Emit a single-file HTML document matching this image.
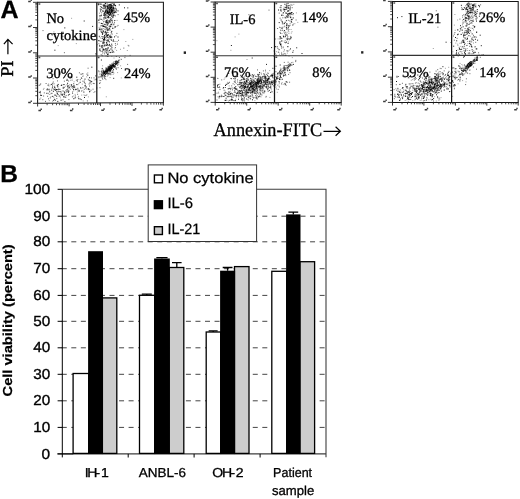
<!DOCTYPE html>
<html><head><meta charset="utf-8"><title>Figure</title>
<style>
html,body{margin:0;padding:0;background:#fff;}
body{width:520px;height:499px;overflow:hidden;position:relative;font-family:"Liberation Sans",sans-serif;}
#wrap{position:absolute;left:0;top:0;width:520px;height:499px;will-change:transform;filter:grayscale(1);background:#fff;}
</style></head><body>
<div id="wrap">
<svg width="520" height="499" viewBox="0 0 520 499" text-rendering="geometricPrecision" style="position:absolute;left:0;top:0">
<rect width="520" height="499" fill="#fff"/>
<path d="M84.5 85.7h1.0M110.5 5.7h1.0M114.0 36.9h1.0M107.5 12.0h1.0M113.0 7.2h1.0M113.5 66.2h1.0M111.4 68.3h1.0M114.7 66.4h1.0M103.0 39.5h1.0M110.8 67.1h1.0M106.7 44.6h1.0M87.8 88.8h1.0M102.7 75.0h1.0M78.2 98.7h1.0M80.0 87.9h1.0M101.6 51.4h1.0M108.8 15.2h1.0M102.1 34.3h1.0M105.0 71.2h1.0M89.1 91.8h1.0M110.1 37.5h1.0M87.8 89.2h1.0M51.4 93.3h1.0M106.7 20.0h1.0M109.8 13.3h1.0M110.0 26.2h1.0M111.1 36.9h1.0M54.0 87.2h1.0M115.2 61.6h1.0M110.1 68.8h1.0M51.1 84.4h1.0M110.9 40.0h1.0M63.5 84.5h1.0M111.3 65.9h1.0M104.2 26.6h1.0M105.0 6.9h1.0M101.7 68.8h1.0M113.1 65.4h1.0M114.7 5.7h1.0M117.1 61.8h1.0M111.4 68.2h1.0M102.7 30.8h1.0M61.8 95.1h1.0M104.6 17.3h1.0M87.3 75.2h1.0M73.4 85.3h1.0M104.8 32.2h1.0M106.5 13.4h1.0M56.4 91.7h1.0M64.4 101.7h1.0M105.3 5.8h1.0M103.3 71.3h1.0M104.3 39.5h1.0M112.5 72.1h1.0M112.3 52.4h1.0M100.7 29.8h1.0M102.2 33.4h1.0M108.9 12.4h1.0M115.7 61.3h1.0M107.9 16.4h1.0M54.8 100.2h1.0M107.8 12.8h1.0M103.2 42.1h1.0M59.4 89.4h1.0M61.6 94.2h1.0M109.2 9.6h1.0M103.3 72.4h1.0M102.4 25.5h1.0M107.8 30.0h1.0M100.9 60.0h1.0M108.1 73.3h1.0M103.5 49.5h1.0M79.7 82.3h1.0M85.7 86.9h1.0M100.7 15.4h1.0M65.2 97.2h1.0M108.6 21.1h1.0M102.8 5.4h1.0M67.0 86.8h1.0M107.5 74.9h1.0M109.3 73.3h1.0M109.8 26.8h1.0M103.9 72.9h1.0M115.9 69.0h1.0M106.8 40.2h1.0M113.1 7.8h1.0M113.5 3.7h1.0M104.1 35.5h1.0M101.8 38.4h1.0M112.9 8.4h1.0M115.0 26.9h1.0M99.4 15.9h1.0M115.1 12.0h1.0M61.3 85.0h1.0M107.9 13.0h1.0M99.5 50.1h1.0M51.2 90.1h1.0M107.2 7.6h1.0M103.4 18.0h1.0M104.4 24.3h1.0M108.9 12.0h1.0M108.8 67.9h1.0M105.1 71.3h1.0M113.1 66.3h1.0M54.4 50.2h1.0M111.7 11.7h1.0M104.1 38.8h1.0M84.5 79.1h1.0M109.4 64.9h1.0M107.0 29.8h1.0M53.9 89.7h1.0M110.3 69.4h1.0M105.8 69.4h1.0M102.1 32.2h1.0M108.1 68.3h1.0M108.1 23.1h1.0M104.6 76.2h1.0M67.1 83.3h1.0M107.1 6.4h1.0M110.4 4.3h1.0M95.3 75.9h1.0M53.9 99.3h1.0M116.4 62.8h1.0M110.0 71.0h1.0M108.9 70.1h1.0M103.6 13.9h1.0M73.2 87.1h1.0M106.2 73.2h1.0M64.3 27.9h1.0M107.3 48.7h1.0M116.1 63.4h1.0M109.7 7.1h1.0M96.0 79.6h1.0M114.8 5.4h1.0M107.2 70.0h1.0M108.9 44.5h1.0M105.0 74.4h1.0M110.6 8.9h1.0M101.9 78.1h1.0M107.3 35.9h1.0M109.8 67.0h1.0M47.3 89.2h1.0M56.2 96.2h1.0M114.3 20.5h1.0M107.4 54.0h1.0M109.3 66.8h1.0M114.3 27.0h1.0M99.4 29.1h1.0M110.9 7.4h1.0M112.6 10.1h1.0M109.5 70.1h1.0M100.9 7.1h1.0M103.7 15.1h1.0M106.0 42.9h1.0M100.9 32.0h1.0M115.6 64.6h1.0M104.1 75.4h1.0M84.0 97.5h1.0M104.2 72.6h1.0M57.3 89.6h1.0M39.8 92.8h1.0M104.4 73.6h1.0M110.5 4.8h1.0M111.4 72.3h1.0M112.7 41.1h1.0M111.8 66.0h1.0M99.2 45.3h1.0M103.7 6.0h1.0M124.0 7.8h1.0M95.4 53.8h1.0M107.4 12.6h1.0M67.6 91.6h1.0M106.7 11.5h1.0M83.7 21.0h1.0M102.8 49.8h1.0M102.9 70.2h1.0M111.0 9.3h1.0M107.8 35.0h1.0M116.4 10.8h1.0M104.4 72.1h1.0M106.9 6.2h1.0M112.3 17.6h1.0M103.6 8.2h1.0M107.0 12.5h1.0M106.3 34.7h1.0M56.8 93.4h1.0M110.0 13.2h1.0M52.3 96.4h1.0M52.9 91.3h1.0M104.6 72.0h1.0M49.2 91.8h1.0M107.3 6.8h1.0M54.6 88.0h1.0M76.9 81.0h1.0M113.2 4.8h1.0M112.7 15.5h1.0M111.2 44.2h1.0M109.3 66.6h1.0M46.3 93.3h1.0M106.6 49.8h1.0M105.1 3.5h1.0M60.8 85.5h1.0M92.1 26.4h1.0M109.6 52.5h1.0M113.0 65.3h1.0M89.0 77.7h1.0M57.3 86.9h1.0M76.3 84.6h1.0M99.2 29.4h1.0M89.3 80.7h1.0M106.3 20.9h1.0M109.5 30.0h1.0M47.6 85.2h1.0M112.8 64.1h1.0M109.8 68.6h1.0M104.0 38.7h1.0M104.0 5.2h1.0M108.6 8.0h1.0M113.6 66.1h1.0M67.9 92.3h1.0M103.1 71.4h1.0M113.0 69.8h1.0M111.0 7.1h1.0M109.4 4.5h1.0M61.6 94.9h1.0M109.4 11.1h1.0M53.6 14.7h1.0M110.8 24.3h1.0M110.3 46.1h1.0M110.1 8.3h1.0M63.6 94.0h1.0M104.7 12.9h1.0M106.2 53.0h1.0M127.3 7.9h1.0M58.2 89.1h1.0M109.8 7.9h1.0M109.5 71.1h1.0M117.4 62.1h1.0M80.9 78.0h1.0M99.9 4.1h1.0M106.4 27.9h1.0M57.3 101.4h1.0M102.2 23.7h1.0M104.5 24.7h1.0M110.1 65.6h1.0M69.1 77.1h1.0M113.2 78.3h1.0M109.1 69.7h1.0M108.3 14.4h1.0M98.2 20.2h1.0M111.3 11.1h1.0M105.0 71.6h1.0M112.9 39.9h1.0M38.8 92.3h1.0M108.0 41.0h1.0M101.7 46.0h1.0M105.8 45.3h1.0M82.3 73.8h1.0M107.2 13.3h1.0M40.1 95.2h1.0M109.4 22.4h1.0M91.2 81.6h1.0M101.5 47.4h1.0M105.5 70.3h1.0M105.4 26.4h1.0M101.0 74.3h1.0M100.9 23.5h1.0M58.7 96.0h1.0M108.8 9.8h1.0M80.6 74.2h1.0M108.5 69.0h1.0M112.5 64.4h1.0M65.8 91.9h1.0M55.1 90.2h1.0M66.5 80.5h1.0M105.4 51.9h1.0M115.1 62.9h1.0M107.7 39.9h1.0M109.2 45.7h1.0M108.6 5.7h1.0M104.4 73.3h1.0M107.0 11.6h1.0M107.0 35.6h1.0M106.4 22.3h1.0M109.0 68.5h1.0M102.4 10.8h1.0M78.5 91.0h1.0M107.7 8.5h1.0M105.8 32.9h1.0M99.8 9.1h1.0M111.0 11.1h1.0M54.5 95.3h1.0M107.2 71.6h1.0M113.4 5.0h1.0M62.7 32.3h1.0M111.1 10.1h1.0M40.8 95.4h1.0M117.5 37.0h1.0M104.8 11.4h1.0M103.4 40.7h1.0M102.4 75.9h1.0M106.2 71.9h1.0M107.0 12.3h1.0M73.1 89.4h1.0M68.8 87.7h1.0M106.4 10.5h1.0M70.9 85.2h1.0M114.1 12.5h1.0M64.3 92.9h1.0M102.6 11.4h1.0M103.0 26.5h1.0M73.3 98.7h1.0M64.0 92.1h1.0M110.0 67.1h1.0M66.6 89.6h1.0M108.9 50.3h1.0M108.9 68.3h1.0M109.6 36.8h1.0M110.8 68.2h1.0M104.8 15.1h1.0M107.8 67.7h1.0M95.8 79.0h1.0M55.9 89.5h1.0M105.3 10.5h1.0M111.5 65.7h1.0M109.6 69.1h1.0M76.3 77.2h1.0M109.1 28.3h1.0M118.8 4.9h1.0M107.4 56.5h1.0" stroke="#000" stroke-width="1.0" stroke-opacity="0.90" fill="none"/>
<path d="M108.8 12.6h1.0M108.5 38.1h1.0M51.7 88.2h1.0M98.2 70.9h1.0M106.1 9.4h1.0M80.9 99.6h1.0M112.2 67.3h1.0M102.3 36.7h1.0M113.5 10.1h1.0M111.3 26.1h1.0M103.4 32.0h1.0M100.1 10.6h1.0M111.9 65.8h1.0M102.6 42.9h1.0M102.5 48.3h1.0M112.1 64.9h1.0M107.8 7.6h1.0M111.4 20.6h1.0M101.3 7.6h1.0M115.5 35.8h1.0M105.9 42.5h1.0M89.4 82.8h1.0M108.1 16.4h1.0M109.0 69.4h1.0M108.6 72.0h1.0M114.6 8.4h1.0M100.6 19.4h1.0M71.6 80.1h1.0M105.7 36.9h1.0M107.0 8.6h1.0M75.1 97.8h1.0M109.3 25.9h1.0M73.2 83.6h1.0M113.1 63.1h1.0M113.1 64.7h1.0M109.8 70.2h1.0M114.8 15.9h1.0M103.3 49.2h1.0M74.3 87.1h1.0M104.8 34.7h1.0M71.1 77.2h1.0M92.5 89.2h1.0M109.6 39.2h1.0M103.7 7.0h1.0M105.1 31.4h1.0M108.5 5.8h1.0M68.9 94.4h1.0M63.4 96.6h1.0M106.0 22.5h1.0M104.8 11.4h1.0M105.4 68.4h1.0M105.9 20.8h1.0M109.9 36.3h1.0M117.0 44.1h1.0M110.5 49.0h1.0M104.1 53.8h1.0M110.5 52.5h1.0M124.4 57.6h1.0M108.4 69.8h1.0M102.6 28.6h1.0M110.2 24.4h1.0M112.3 10.6h1.0M108.9 9.1h1.0M112.1 16.4h1.0M115.6 60.6h1.0M88.9 89.3h1.0M85.5 95.4h1.0M103.5 6.5h1.0M110.8 67.1h1.0M90.5 90.2h1.0M115.2 45.3h1.0M90.9 77.9h1.0M104.2 78.6h1.0M107.2 15.7h1.0M105.9 20.9h1.0M84.7 83.4h1.0M105.6 9.0h1.0M75.9 80.2h1.0M105.7 40.4h1.0M114.5 5.4h1.0M53.0 100.5h1.0M117.1 65.3h1.0M106.5 72.0h1.0M115.8 12.4h1.0M106.9 28.0h1.0M65.5 90.4h1.0M55.6 89.9h1.0M111.0 69.0h1.0M106.2 35.9h1.0M105.9 71.1h1.0M70.2 76.8h1.0M47.1 96.3h1.0M111.7 6.9h1.0M45.6 83.5h1.0M63.1 96.9h1.0M106.9 44.2h1.0M72.7 86.7h1.0M57.6 84.7h1.0M103.7 37.4h1.0M56.3 98.6h1.0M99.4 18.2h1.0M72.1 93.4h1.0M105.1 27.5h1.0M103.6 15.5h1.0M110.8 11.2h1.0M77.3 79.5h1.0M107.3 17.0h1.0M110.4 12.3h1.0M116.8 62.3h1.0M99.5 87.7h1.0M105.7 48.5h1.0M104.4 71.1h1.0M104.5 45.7h1.0M104.1 37.6h1.0M110.9 7.7h1.0M83.4 92.2h1.0M69.8 89.2h1.0M100.4 41.4h1.0M104.5 44.7h1.0M101.5 75.3h1.0M103.9 12.7h1.0M48.0 98.8h1.0M103.5 73.4h1.0M110.5 6.8h1.0M101.0 72.9h1.0M103.6 77.0h1.0M103.8 42.4h1.0M105.3 73.9h1.0M112.1 10.8h1.0M110.7 65.2h1.0M106.5 35.4h1.0M113.2 12.7h1.0M66.6 79.7h1.0M94.4 91.7h1.0M104.7 32.4h1.0M113.2 24.3h1.0M109.9 67.8h1.0M109.8 21.8h1.0M38.7 85.4h1.0M111.8 22.2h1.0M72.0 92.0h1.0M113.6 11.2h1.0M109.6 5.4h1.0M112.1 28.2h1.0M111.0 12.1h1.0M111.3 47.1h1.0M115.2 64.4h1.0M118.7 59.9h1.0M113.6 61.7h1.0M53.1 89.0h1.0M104.3 16.7h1.0M112.5 65.8h1.0M106.7 71.4h1.0M127.1 64.4h1.0M103.4 4.7h1.0M106.5 71.8h1.0M66.6 84.8h1.0M60.6 100.5h1.0M62.5 99.8h1.0M99.7 82.8h1.0M108.6 26.8h1.0M109.7 67.7h1.0M106.5 6.9h1.0M109.2 11.5h1.0M56.9 85.7h1.0M115.8 56.5h1.0M110.8 68.0h1.0M100.8 76.9h1.0M112.5 65.5h1.0M101.1 45.8h1.0M110.9 33.0h1.0M114.6 64.0h1.0M109.6 70.7h1.0M109.4 10.6h1.0M108.3 29.6h1.0M107.7 12.2h1.0M45.0 101.4h1.0M104.4 36.1h1.0M88.3 80.0h1.0M99.0 49.0h1.0M107.0 70.6h1.0M118.0 61.1h1.0M98.8 19.9h1.0M111.5 67.3h1.0M40.2 83.9h1.0M42.3 99.7h1.0M100.3 31.1h1.0M98.2 40.7h1.0M105.1 22.6h1.0M111.0 10.8h1.0M111.7 65.0h1.0M99.3 46.5h1.0M129.6 55.4h1.0M108.7 9.6h1.0M128.3 45.9h1.0M110.4 14.1h1.0M109.0 41.7h1.0M106.6 73.5h1.0M108.4 69.8h1.0M104.9 72.4h1.0M105.4 34.2h1.0M78.7 90.3h1.0M100.2 80.6h1.0M110.3 74.7h1.0M39.6 84.8h1.0M106.3 50.2h1.0M106.7 71.1h1.0M112.5 12.5h1.0M109.4 21.0h1.0M107.7 68.3h1.0M87.6 68.2h1.0M71.9 96.9h1.0M105.3 12.8h1.0M101.9 75.4h1.0M113.9 66.1h1.0M102.3 72.4h1.0M46.8 89.0h1.0M116.4 63.6h1.0M104.1 73.7h1.0M77.3 88.3h1.0M104.4 37.6h1.0M102.0 43.0h1.0M99.0 83.4h1.0M103.6 36.5h1.0M111.1 16.3h1.0M105.9 71.2h1.0M98.6 22.7h1.0M99.9 6.6h1.0M118.9 57.5h1.0M109.4 9.4h1.0M103.7 13.8h1.0M108.0 47.9h1.0M107.0 70.0h1.0M111.7 50.1h1.0M110.7 20.1h1.0M102.2 53.0h1.0M107.9 67.0h1.0M104.2 15.0h1.0M109.2 37.0h1.0M68.0 94.8h1.0M105.8 15.9h1.0M75.3 89.2h1.0M106.6 41.2h1.0M103.5 19.3h1.0M105.0 14.6h1.0M39.9 91.4h1.0M113.8 67.1h1.0M89.4 91.4h1.0M104.6 8.1h1.0M102.7 43.4h1.0M103.4 8.8h1.0M114.3 63.4h1.0M106.7 6.0h1.0M105.2 11.6h1.0M108.2 70.2h1.0M63.9 81.2h1.0M110.4 10.0h1.0M107.9 70.0h1.0M99.9 51.0h1.0M111.3 31.3h1.0M86.4 74.1h1.0M110.0 67.4h1.0M103.8 71.9h1.0M101.1 9.7h1.0M113.6 12.9h1.0M106.8 22.6h1.0M99.3 50.0h1.0M107.8 45.4h1.0M63.2 87.3h1.0M107.0 54.6h1.0M111.0 66.6h1.0M74.8 95.9h1.0M70.8 84.7h1.0M67.8 90.3h1.0M110.7 69.1h1.0M103.3 15.2h1.0M103.9 72.4h1.0M60.1 91.6h1.0M103.5 39.3h1.0M107.6 32.6h1.0M95.6 55.1h1.0M110.3 73.9h1.0M90.4 81.7h1.0M109.4 36.4h1.0M105.2 21.7h1.0M110.0 8.0h1.0M52.6 78.7h1.0M101.7 47.0h1.0M110.0 4.9h1.0M52.0 85.2h1.0M114.6 65.0h1.0M79.8 79.7h1.0M103.6 45.1h1.0M104.4 5.5h1.0M68.5 91.1h1.0M78.6 91.2h1.0M98.6 71.8h1.0M105.5 18.3h1.0M100.9 46.2h1.0M112.7 6.0h1.0M63.8 94.8h1.0M63.8 97.1h1.0M102.2 8.2h1.0M112.9 16.8h1.0M83.9 82.6h1.0M114.0 22.3h1.0M108.6 50.8h1.0M96.4 88.0h1.0M115.7 9.7h1.0M109.3 6.5h1.0M81.0 91.0h1.0M91.1 67.2h1.0M75.8 89.4h1.0M56.8 85.4h1.0M47.7 93.3h1.0M108.6 4.4h1.0M111.5 47.8h1.0M100.9 28.9h1.0M109.1 35.8h1.0M108.2 66.7h1.0M55.6 89.7h1.0M105.9 33.5h1.0M110.5 11.8h1.0M111.6 70.6h1.0M84.9 85.1h1.0M103.6 37.9h1.0M57.0 80.9h1.0M106.0 68.4h1.0M111.2 37.7h1.0M54.5 21.3h1.0M57.9 91.3h1.0M114.0 4.4h1.0M110.4 49.0h1.0M109.2 17.7h1.0M62.4 36.4h1.0M106.8 32.3h1.0M110.1 17.8h1.0M114.6 10.9h1.0M109.7 7.0h1.0M117.9 60.4h1.0M106.9 35.0h1.0M52.0 83.3h1.0M60.6 92.2h1.0M123.3 48.1h1.0M93.7 83.6h1.0M107.4 23.9h1.0M109.5 8.3h1.0M98.5 77.7h1.0M57.8 84.4h1.0M110.2 35.1h1.0M109.1 15.3h1.0M110.1 13.8h1.0M49.8 97.9h1.0M62.7 88.5h1.0M67.4 85.6h1.0M103.0 31.5h1.0M107.4 47.4h1.0M114.9 47.5h1.0M111.5 63.4h1.0M106.3 73.2h1.0M107.8 5.2h1.0M111.1 31.6h1.0M113.6 15.4h1.0M112.0 10.5h1.0M116.0 9.0h1.0M39.3 99.2h1.0M108.9 21.6h1.0M107.2 30.4h1.0M78.9 72.8h1.0M106.4 25.1h1.0M63.9 52.7h1.0M111.0 67.6h1.0M107.2 25.4h1.0M105.3 12.5h1.0M110.7 18.5h1.0M107.4 10.5h1.0M112.0 7.1h1.0M52.8 82.0h1.0M107.5 54.8h1.0M111.8 13.1h1.0M111.7 34.1h1.0M83.8 89.3h1.0M107.7 17.5h1.0M70.5 86.7h1.0M42.5 30.6h1.0M74.0 87.1h1.0M102.1 26.6h1.0M112.1 72.3h1.0M111.0 68.3h1.0M110.3 68.2h1.0M99.6 76.3h1.0M107.8 69.0h1.0M111.7 11.0h1.0M105.1 50.0h1.0M65.7 95.4h1.0M112.8 65.8h1.0M106.6 22.7h1.0M77.1 94.3h1.0M107.6 13.6h1.0M112.5 13.3h1.0M103.7 26.4h1.0M110.1 8.1h1.0M110.8 65.9h1.0M56.8 94.1h1.0M106.6 17.3h1.0M110.4 68.0h1.0M68.4 99.6h1.0M117.6 67.7h1.0M115.0 68.0h1.0M98.3 40.6h1.0M111.8 14.3h1.0M112.9 14.7h1.0M102.5 50.4h1.0M112.5 65.5h1.0M105.6 56.0h1.0M117.5 25.4h1.0M105.7 69.6h1.0M92.8 83.4h1.0M98.1 4.8h1.0M111.1 7.6h1.0M110.9 12.8h1.0M111.2 5.5h1.0M103.8 50.9h1.0M106.2 72.9h1.0M112.2 28.4h1.0M103.4 74.4h1.0M106.4 21.5h1.0M110.7 12.1h1.0M108.9 14.3h1.0M111.3 5.3h1.0M106.3 45.4h1.0M98.3 76.9h1.0M108.1 17.0h1.0M117.8 10.9h1.0M107.2 24.5h1.0M117.6 14.6h1.0M107.6 22.0h1.0M79.7 99.2h1.0M111.1 15.8h1.0M57.7 94.5h1.0M53.5 83.8h1.0M111.6 7.7h1.0M102.4 41.9h1.0M106.7 10.6h1.0M48.2 89.8h1.0M102.4 72.9h1.0M109.7 6.2h1.0M114.6 11.8h1.0M100.8 71.6h1.0M93.5 77.9h1.0M100.1 11.7h1.0M68.1 81.0h1.0M118.0 40.3h1.0M113.9 63.4h1.0M107.7 71.0h1.0M114.9 43.6h1.0M113.9 67.3h1.0M102.5 73.5h1.0M110.2 19.5h1.0M115.3 62.9h1.0M43.1 96.0h1.0M101.2 76.2h1.0M114.6 8.8h1.0M106.3 36.3h1.0M103.5 46.2h1.0M75.2 89.7h1.0M105.2 49.2h1.0M71.9 86.4h1.0M67.8 85.8h1.0M116.4 33.4h1.0M107.1 37.4h1.0M106.6 11.7h1.0M100.6 15.9h1.0M100.9 75.6h1.0M109.3 4.8h1.0M83.5 81.6h1.0M103.6 43.2h1.0M68.4 87.9h1.0M111.6 9.3h1.0M115.2 62.9h1.0M103.0 74.1h1.0M106.9 23.2h1.0M102.0 45.3h1.0M105.2 48.6h1.0M106.3 71.8h1.0M111.3 24.3h1.0M104.4 76.6h1.0M105.9 12.6h1.0M112.6 51.4h1.0M107.5 74.0h1.0M108.1 34.6h1.0M43.8 92.9h1.0M111.6 9.1h1.0M86.9 100.9h1.0M121.0 68.5h1.0" stroke="#000" stroke-width="1.0" stroke-opacity="0.60" fill="none"/>
<path d="M99.8 27.0h1.0M59.6 96.1h1.0M113.1 11.6h1.0M104.9 31.1h1.0M73.6 81.8h1.0M105.8 6.0h1.0M110.0 12.7h1.0M104.3 21.3h1.0M111.3 10.5h1.0M74.6 94.4h1.0M116.3 63.6h1.0M84.7 86.6h1.0M103.6 40.9h1.0M40.3 98.0h1.0M111.3 37.1h1.0M50.3 96.9h1.0M103.7 14.1h1.0M108.0 6.5h1.0M107.5 70.3h1.0M108.9 42.8h1.0M107.1 42.0h1.0M109.2 26.3h1.0M103.2 73.2h1.0M93.8 79.9h1.0M97.1 44.7h1.0M110.3 4.2h1.0M116.8 61.1h1.0M100.1 38.0h1.0M105.9 50.4h1.0M112.1 64.8h1.0M111.4 68.5h1.0M101.0 36.5h1.0M105.7 14.7h1.0M116.4 63.5h1.0M116.6 64.6h1.0M106.0 29.8h1.0M52.0 87.5h1.0M113.3 67.6h1.0M107.0 45.2h1.0M112.3 8.4h1.0M72.8 96.0h1.0M106.3 68.1h1.0M82.8 87.7h1.0M106.4 13.4h1.0M106.3 70.8h1.0M105.8 11.2h1.0M110.2 8.4h1.0M76.8 92.0h1.0M104.9 11.5h1.0M107.8 17.9h1.0M75.8 43.6h1.0M109.8 68.2h1.0M103.6 38.6h1.0M102.8 25.9h1.0M48.8 100.6h1.0M104.3 27.9h1.0M105.1 71.7h1.0M106.6 30.9h1.0M108.9 28.9h1.0M102.5 49.2h1.0M116.1 50.4h1.0M98.8 36.1h1.0M120.0 49.3h1.0M107.7 69.9h1.0M53.4 31.9h1.0M90.2 80.7h1.0M104.2 13.1h1.0M108.2 12.9h1.0M107.0 54.5h1.0M109.9 67.1h1.0M71.1 18.3h1.0M110.6 20.4h1.0M108.9 11.0h1.0M103.5 17.6h1.0M58.4 91.9h1.0M78.4 83.4h1.0M104.2 13.5h1.0M117.1 62.8h1.0M104.5 29.4h1.0M105.8 21.7h1.0M77.6 89.3h1.0M69.2 94.3h1.0M119.1 60.8h1.0M98.1 4.6h1.0M62.4 87.4h1.0M112.3 66.1h1.0M68.4 86.7h1.0M51.7 96.4h1.0M110.8 5.5h1.0M115.2 6.0h1.0M116.5 26.4h1.0M77.7 97.3h1.0M112.9 69.2h1.0M82.0 76.3h1.0M106.9 8.7h1.0M91.7 67.2h1.0M101.1 32.4h1.0M107.5 17.8h1.0M106.2 27.9h1.0M102.2 55.9h1.0M106.6 70.4h1.0M101.6 32.8h1.0M106.7 35.7h1.0M101.1 25.9h1.0M102.1 74.6h1.0M108.4 20.6h1.0M113.8 41.4h1.0M53.3 97.4h1.0M52.2 86.5h1.0M81.4 78.4h1.0M108.8 12.6h1.0M112.6 51.6h1.0M109.7 19.5h1.0M118.2 64.2h1.0M115.4 41.5h1.0M100.3 77.1h1.0M103.7 52.4h1.0M113.3 9.7h1.0M98.4 29.9h1.0M110.8 64.8h1.0M107.1 5.0h1.0M100.4 19.4h1.0M113.0 8.6h1.0M106.4 23.1h1.0M107.6 22.5h1.0M68.6 86.8h1.0M111.0 66.7h1.0M71.3 84.8h1.0M113.9 65.3h1.0M79.5 98.7h1.0M111.8 8.9h1.0M107.3 52.0h1.0M90.3 82.1h1.0M105.5 20.6h1.0M108.9 7.0h1.0M110.0 12.8h1.0M100.7 23.2h1.0M106.8 68.3h1.0M103.9 45.6h1.0M59.9 97.8h1.0M108.9 66.0h1.0M110.3 68.5h1.0M82.9 76.0h1.0M85.9 89.1h1.0M54.2 86.2h1.0M101.2 19.3h1.0M108.0 52.1h1.0M62.7 90.7h1.0M104.4 45.8h1.0M109.8 72.9h1.0M70.1 80.3h1.0M67.4 88.6h1.0M106.9 70.2h1.0M101.4 55.0h1.0M53.1 74.6h1.0M72.1 88.5h1.0M81.3 88.4h1.0M101.9 36.9h1.0M98.8 36.5h1.0M87.9 96.9h1.0M111.3 68.1h1.0M109.0 7.6h1.0M109.5 10.3h1.0M100.6 25.5h1.0M105.9 32.7h1.0M108.2 13.8h1.0M107.9 7.8h1.0M71.9 86.8h1.0M85.6 87.8h1.0M108.6 12.1h1.0M87.3 72.9h1.0M104.2 71.4h1.0M84.9 88.4h1.0M110.0 68.2h1.0M117.6 61.7h1.0M116.3 61.5h1.0M110.6 15.0h1.0M110.3 14.8h1.0M103.9 40.0h1.0M110.5 45.9h1.0M112.1 50.4h1.0M43.5 88.4h1.0M102.5 4.7h1.0M74.2 98.1h1.0M104.7 7.1h1.0M113.3 25.0h1.0M107.1 9.1h1.0M108.0 17.8h1.0M112.6 74.4h1.0M124.6 55.7h1.0M71.7 77.9h1.0M81.8 84.1h1.0M113.6 65.6h1.0M105.9 71.1h1.0M106.3 43.5h1.0M132.3 39.4h1.0M49.8 84.8h1.0M102.7 8.0h1.0M106.7 76.3h1.0M99.0 40.9h1.0M83.7 80.3h1.0M109.3 67.5h1.0M107.5 14.6h1.0M111.3 56.4h1.0M107.0 9.5h1.0M112.4 66.6h1.0M109.7 20.8h1.0M110.1 70.3h1.0M108.2 9.1h1.0M63.9 94.6h1.0M105.3 17.2h1.0M90.8 84.2h1.0M113.4 8.3h1.0M111.1 6.8h1.0M123.4 29.6h1.0M111.1 6.6h1.0M112.7 41.0h1.0M110.6 67.4h1.0M105.7 70.5h1.0M105.0 78.9h1.0M60.5 94.2h1.0M112.0 8.7h1.0M112.6 62.9h1.0M107.9 70.7h1.0M105.8 71.4h1.0M86.2 76.9h1.0M110.2 14.7h1.0M78.1 96.4h1.0M109.6 77.6h1.0M103.7 40.2h1.0M110.4 9.8h1.0M104.9 70.0h1.0M64.8 86.2h1.0M107.5 68.5h1.0M111.7 67.2h1.0M108.2 8.2h1.0M108.5 4.7h1.0M107.9 54.0h1.0M115.0 64.3h1.0M48.8 94.5h1.0M105.4 67.6h1.0M73.7 86.0h1.0M114.7 7.7h1.0M104.6 18.5h1.0M101.9 68.4h1.0M107.3 20.9h1.0M102.0 29.7h1.0M89.0 86.3h1.0M107.0 50.9h1.0M105.7 15.3h1.0M98.4 43.5h1.0M120.1 65.8h1.0M73.2 90.9h1.0M101.9 34.2h1.0M102.7 49.4h1.0M99.5 73.8h1.0M105.4 8.9h1.0M98.2 4.2h1.0M114.5 48.9h1.0M50.2 93.9h1.0M108.1 10.4h1.0M60.3 94.0h1.0M106.5 69.1h1.0M69.1 84.9h1.0M126.8 50.5h1.0M52.1 101.2h1.0M109.3 8.2h1.0M107.3 17.2h1.0M111.8 9.5h1.0M102.2 20.2h1.0M101.7 71.7h1.0M101.5 71.9h1.0M48.1 84.0h1.0M73.4 87.7h1.0M46.1 89.7h1.0M88.6 89.9h1.0M113.6 52.2h1.0M113.3 10.5h1.0M108.9 68.0h1.0M107.4 68.3h1.0M102.8 25.0h1.0M109.7 70.9h1.0M102.1 76.5h1.0M106.0 24.0h1.0M104.3 72.8h1.0M107.0 72.8h1.0M109.4 13.6h1.0M52.0 87.1h1.0M106.9 72.9h1.0M105.6 79.7h1.0M114.3 66.1h1.0M105.7 6.7h1.0M104.2 73.8h1.0M106.7 3.6h1.0M104.8 10.2h1.0M64.0 87.4h1.0M102.1 65.8h1.0M108.8 68.7h1.0M106.9 7.4h1.0M108.2 69.8h1.0M110.7 66.6h1.0M113.2 8.8h1.0M101.0 14.1h1.0M120.6 59.2h1.0M117.3 62.8h1.0M107.7 66.2h1.0M83.3 91.9h1.0M109.7 10.7h1.0M93.4 92.5h1.0M88.3 84.0h1.0M112.0 5.6h1.0M103.0 21.4h1.0M109.4 9.6h1.0M113.6 14.0h1.0M115.7 63.6h1.0M57.2 86.1h1.0M63.3 87.9h1.0M111.7 45.5h1.0M49.0 89.2h1.0M113.7 23.8h1.0M115.5 61.8h1.0M120.9 59.5h1.0M111.3 12.4h1.0M46.7 90.2h1.0M112.0 68.2h1.0M98.6 27.8h1.0M107.3 69.4h1.0M49.2 90.1h1.0M125.3 41.5h1.0M105.7 28.7h1.0M82.0 81.2h1.0M74.7 97.2h1.0M115.0 64.8h1.0M125.5 68.7h1.0M105.8 96.8h1.0M116.6 20.4h1.0M115.0 64.4h1.0M95.0 79.7h1.0M116.8 41.7h1.0M108.6 70.9h1.0M106.6 70.1h1.0M84.3 95.7h1.0M108.0 69.6h1.0M81.2 95.1h1.0M111.4 67.6h1.0M108.4 70.1h1.0M82.3 90.7h1.0M109.7 15.6h1.0M107.5 37.5h1.0M106.8 69.9h1.0M114.7 63.6h1.0M104.6 33.2h1.0M101.5 55.4h1.0M109.6 14.9h1.0M110.6 14.3h1.0M82.7 100.9h1.0M112.2 65.6h1.0M117.1 72.6h1.0M103.9 36.4h1.0M108.4 5.4h1.0M109.2 69.6h1.0M107.7 11.5h1.0M114.3 12.1h1.0M106.4 14.1h1.0M104.2 77.5h1.0M100.6 41.2h1.0M109.2 68.0h1.0M110.5 64.8h1.0M102.9 6.0h1.0M120.8 77.9h1.0M73.1 89.3h1.0M105.2 18.3h1.0M102.4 40.1h1.0M59.0 91.5h1.0M108.1 11.4h1.0M100.6 54.6h1.0M109.2 67.8h1.0M48.5 86.0h1.0M127.6 45.3h1.0M111.6 11.5h1.0M107.7 37.4h1.0M111.4 3.5h1.0M110.5 10.8h1.0M112.1 22.9h1.0M118.6 62.6h1.0M112.1 13.3h1.0M109.7 14.4h1.0M109.0 74.5h1.0M104.1 4.0h1.0M102.3 79.5h1.0M99.0 13.2h1.0M113.4 73.1h1.0M117.3 63.7h1.0M41.1 95.5h1.0M106.6 4.3h1.0M66.7 79.2h1.0M105.1 37.3h1.0M110.1 52.7h1.0M108.9 14.5h1.0M112.2 3.5h1.0M104.1 12.8h1.0M107.8 67.3h1.0M77.1 90.0h1.0M60.6 99.8h1.0M112.3 66.9h1.0M106.6 28.8h1.0M111.3 10.2h1.0M54.5 94.5h1.0M69.6 77.8h1.0M61.7 91.0h1.0M105.9 52.2h1.0M105.5 74.2h1.0M103.4 72.6h1.0M113.3 9.6h1.0M103.3 42.8h1.0M112.4 11.8h1.0M108.8 71.3h1.0M103.7 73.0h1.0M86.4 94.7h1.0M115.7 67.6h1.0M100.5 25.7h1.0M111.9 20.8h1.0M98.9 80.3h1.0M105.1 9.0h1.0M102.2 73.9h1.0M102.7 73.5h1.0M74.9 89.6h1.0M105.9 71.0h1.0M56.6 92.7h1.0M99.4 29.1h1.0M107.2 72.4h1.0M105.1 7.6h1.0M83.5 94.9h1.0M99.0 36.9h1.0M111.5 19.2h1.0M63.2 91.6h1.0M113.5 66.7h1.0M105.0 4.1h1.0M111.1 68.5h1.0M63.2 84.7h1.0M101.2 70.9h1.0M114.8 65.9h1.0M99.4 74.4h1.0M110.6 51.1h1.0M107.6 40.6h1.0M111.1 40.3h1.0M67.8 95.6h1.0M81.8 87.4h1.0M111.0 69.0h1.0M110.8 68.8h1.0M115.5 61.9h1.0M107.6 69.9h1.0M77.4 84.6h1.0M111.2 24.4h1.0M113.3 15.4h1.0M100.8 4.1h1.0M111.7 13.5h1.0M112.5 65.1h1.0M104.6 29.5h1.0M57.7 45.6h1.0M118.0 62.5h1.0M101.2 12.5h1.0M87.8 79.3h1.0M42.9 89.4h1.0M100.3 48.4h1.0M111.7 21.0h1.0M105.8 38.1h1.0M106.2 11.0h1.0M103.1 22.0h1.0M113.5 58.0h1.0M109.4 11.2h1.0M109.1 66.2h1.0M109.3 9.2h1.0M55.3 95.6h1.0M107.4 66.9h1.0M116.0 62.1h1.0M110.7 32.5h1.0M112.5 15.9h1.0M89.1 85.1h1.0M111.0 66.5h1.0M106.8 12.3h1.0M109.8 13.7h1.0M113.3 28.3h1.0M66.9 90.8h1.0M100.5 9.2h1.0M107.4 69.8h1.0M109.2 20.6h1.0M89.4 83.5h1.0M101.7 70.5h1.0M105.6 71.4h1.0M101.0 4.3h1.0M108.1 28.6h1.0M71.5 87.4h1.0M104.6 71.3h1.0M99.4 15.9h1.0M107.3 69.2h1.0" stroke="#000" stroke-width="1.0" stroke-opacity="0.38" fill="none"/>
<path d="M37.6 2.3H163.4L163.4 102.5L37.6 103.3Z" fill="none" stroke="#151515" stroke-width="1.05"/>
<path d="M96.8 2.3V102.9" stroke="#151515" stroke-width="1.25" fill="none"/>
<path d="M37.6 56.0H163.4" stroke="#333" stroke-width="1.1" fill="none"/>
<path d="M38.5 3.9h1.8M97.7 3.9h1.8M38.5 57.6h1.8M97.7 57.6h1.8" stroke="#222" stroke-width="1.5" stroke-opacity="0.8" fill="none"/>
<path d="M47.1 103.3v1.9M37.6 95.7h-2.3M52.6 103.3v1.9M37.6 91.3h-2.3M56.5 103.3v1.9M37.6 88.1h-2.3M59.6 103.3v1.9M37.6 85.7h-2.3M62.1 103.3v1.9M37.6 83.7h-2.3M64.2 103.3v1.9M37.6 82.0h-2.3M66.0 103.3v1.9M37.6 80.5h-2.3M67.6 103.3v1.9M37.6 79.2h-2.3M78.5 103.1v1.9M37.6 70.4h-2.3M84.1 103.1v1.9M37.6 66.0h-2.3M88.0 103.1v1.9M37.6 62.8h-2.3M91.0 103.1v1.9M37.6 60.4h-2.3M93.5 103.1v1.9M37.6 58.4h-2.3M95.6 103.1v1.9M37.6 56.7h-2.3M97.5 103.1v1.9M37.6 55.2h-2.3M99.1 103.1v1.9M37.6 54.0h-2.3M110.0 102.9v1.9M37.6 45.2h-2.3M115.5 102.9v1.9M37.6 40.8h-2.3M119.4 102.9v1.9M37.6 37.6h-2.3M122.5 102.9v1.9M37.6 35.2h-2.3M125.0 102.9v1.9M37.6 33.2h-2.3M127.1 102.9v1.9M37.6 31.5h-2.3M128.9 102.9v1.9M37.6 30.0h-2.3M130.5 102.9v1.9M37.6 28.7h-2.3M141.4 102.7v1.9M37.6 19.9h-2.3M147.0 102.7v1.9M37.6 15.5h-2.3M150.9 102.7v1.9M37.6 12.3h-2.3M153.9 102.7v1.9M37.6 9.9h-2.3M156.4 102.7v1.9M37.6 7.9h-2.3M158.5 102.7v1.9M37.6 6.2h-2.3M160.4 102.7v1.9M37.6 4.7h-2.3M162.0 102.7v1.9M37.6 3.5h-2.3" stroke="#222" stroke-width="0.8" fill="none"/>
<path d="M37.6 103.3v3.2M37.6 103.3h-4.6M69.1 103.1v3.2M37.6 78.0h-4.6M100.5 102.9v3.2M37.6 52.8h-4.6M132.0 102.7v3.2M37.6 27.5h-4.6M163.4 102.5v3.2M37.6 2.3h-4.6" stroke="#222" stroke-width="0.9" fill="none"/>
<path d="M38.4 110.6h2.6M40.5 109.3h1.4M28.2 102.4h2.6M30.6 101.2h1.3M69.9 110.4h2.6M72.0 109.1h1.4M28.2 77.1h2.6M30.6 76.0h1.3M101.3 110.2h2.6M103.4 108.9h1.4M28.2 51.9h2.6M30.6 50.7h1.3M132.8 110.0h2.6M134.9 108.7h1.4M28.2 26.6h2.6M30.6 25.4h1.3M159.4 109.8h2.6M161.5 108.5h1.4M28.2 1.4h2.6M30.6 0.2h1.3" stroke="#1a1a1a" stroke-width="1.5" stroke-opacity="0.85" fill="none"/>
<path d="M284.7 72.8h1.0M245.9 81.5h1.0M289.2 70.3h1.0M289.7 8.9h1.0M287.2 11.2h1.0M231.1 100.0h1.0M256.6 98.9h1.0M240.3 75.3h1.0M258.9 81.8h1.0M266.8 80.4h1.0M259.1 72.6h1.0M280.0 76.6h1.0M281.0 15.2h1.0M287.2 70.7h1.0M284.9 36.7h1.0M251.3 86.2h1.0M272.1 77.0h1.0M240.4 83.2h1.0M217.0 86.9h1.0M281.7 21.8h1.0M262.5 92.2h1.0M257.1 81.0h1.0M290.5 37.1h1.0M266.6 81.4h1.0M279.5 42.9h1.0M225.0 85.5h1.0M244.1 81.9h1.0M253.0 84.6h1.0M287.6 43.4h1.0M258.4 74.6h1.0M252.3 81.8h1.0M250.1 98.8h1.0M231.3 99.2h1.0M268.8 83.0h1.0M225.3 95.5h1.0M251.1 83.1h1.0M264.1 91.9h1.0M260.6 79.6h1.0M265.7 84.6h1.0M251.7 92.0h1.0M272.4 83.1h1.0M284.6 32.2h1.0M280.5 44.2h1.0M254.6 93.4h1.0M290.1 38.8h1.0M268.8 90.4h1.0M271.1 82.5h1.0M235.2 88.5h1.0M291.4 12.7h1.0M301.5 53.5h1.0M283.7 66.9h1.0M258.4 83.8h1.0M269.4 82.8h1.0M279.7 65.0h1.0M251.9 88.1h1.0M290.5 37.8h1.0M263.8 84.7h1.0M217.1 85.6h1.0M244.9 85.9h1.0M246.3 80.8h1.0M235.9 93.8h1.0M252.0 99.8h1.0M272.3 74.2h1.0M278.6 49.7h1.0M282.5 70.6h1.0M230.9 45.5h1.0M258.1 82.2h1.0M284.5 83.7h1.0M241.3 90.4h1.0M241.2 99.2h1.0M246.8 84.8h1.0M240.2 93.5h1.0M279.7 36.7h1.0M249.9 83.4h1.0M288.0 25.9h1.0M251.3 86.0h1.0M275.5 66.2h1.0M257.6 84.0h1.0M259.9 86.3h1.0M287.4 6.0h1.0M287.4 51.0h1.0M287.1 14.7h1.0M262.7 80.5h1.0M287.9 15.1h1.0M292.9 64.4h1.0M280.5 10.2h1.0M287.8 13.7h1.0M280.0 44.9h1.0M268.0 78.4h1.0M255.5 82.9h1.0M250.1 86.8h1.0M279.0 79.5h1.0M244.0 88.4h1.0M284.7 22.3h1.0M228.2 73.3h1.0M259.3 96.3h1.0M257.3 81.4h1.0M270.3 85.0h1.0M247.4 92.4h1.0M252.2 88.6h1.0M256.0 82.6h1.0M251.9 86.6h1.0M243.7 78.9h1.0M265.5 82.7h1.0M289.9 17.4h1.0M236.6 93.1h1.0M246.7 86.5h1.0M277.0 73.3h1.0M258.3 78.9h1.0M249.3 83.5h1.0M237.1 76.4h1.0M279.1 71.9h1.0M228.6 92.6h1.0M254.1 87.2h1.0M282.8 12.8h1.0M260.9 81.2h1.0M264.8 83.4h1.0M267.1 75.3h1.0M234.7 82.2h1.0M286.0 42.1h1.0M251.7 91.8h1.0M289.3 13.3h1.0M289.8 64.4h1.0M231.7 93.7h1.0M253.0 75.8h1.0M248.7 90.3h1.0M243.7 79.7h1.0M286.0 25.1h1.0M281.5 28.5h1.0M270.9 75.2h1.0M271.5 91.8h1.0M272.1 75.5h1.0M279.8 73.7h1.0M253.1 87.8h1.0M267.7 76.7h1.0M286.6 28.9h1.0M241.3 88.7h1.0M261.4 82.6h1.0M271.1 47.6h1.0M284.1 11.1h1.0M248.1 89.7h1.0M259.6 86.2h1.0M251.4 80.2h1.0M285.4 55.3h1.0M238.0 99.2h1.0M266.7 79.2h1.0M290.9 21.2h1.0M290.0 48.9h1.0M266.6 88.3h1.0M278.0 10.0h1.0M242.3 100.8h1.0M236.2 89.1h1.0M251.7 58.0h1.0M254.1 81.2h1.0M288.2 10.9h1.0M256.3 97.8h1.0M279.5 38.9h1.0M229.7 94.0h1.0M260.1 83.4h1.0M264.6 80.7h1.0M247.4 92.8h1.0M287.4 46.7h1.0M291.4 14.3h1.0M288.5 5.4h1.0M285.9 20.7h1.0M242.8 96.1h1.0M242.2 77.3h1.0M274.7 80.0h1.0M228.4 94.5h1.0M250.4 90.7h1.0M290.3 13.5h1.0M268.5 78.5h1.0M257.3 74.4h1.0M234.7 100.5h1.0M292.3 52.3h1.0M225.1 100.4h1.0M268.9 77.0h1.0M259.0 81.6h1.0M238.9 90.8h1.0M270.1 92.4h1.0M252.1 85.8h1.0M282.6 54.9h1.0M278.7 22.6h1.0M296.2 47.8h1.0M234.1 87.8h1.0M267.7 86.3h1.0M248.1 92.7h1.0M287.6 10.8h1.0M253.2 85.8h1.0M235.0 76.3h1.0M257.5 83.9h1.0M276.4 78.4h1.0M255.1 84.2h1.0M247.1 79.0h1.0M258.0 75.9h1.0M238.8 82.9h1.0M272.8 81.9h1.0M286.2 82.0h1.0M225.6 98.2h1.0M280.4 7.3h1.0M242.4 95.3h1.0M226.8 96.7h1.0M280.9 46.1h1.0M253.8 90.0h1.0M266.6 80.5h1.0M241.6 87.9h1.0M249.9 83.9h1.0M263.5 81.7h1.0M265.6 86.8h1.0M263.4 81.0h1.0M278.1 73.0h1.0M249.2 87.7h1.0M260.3 94.1h1.0M273.7 75.1h1.0M221.5 96.2h1.0M256.8 79.1h1.0M241.4 99.2h1.0M283.1 36.3h1.0M259.8 80.7h1.0M267.2 89.7h1.0M253.7 89.3h1.0M250.2 93.1h1.0M249.6 84.5h1.0M279.9 44.5h1.0M284.8 17.9h1.0M265.2 76.7h1.0M264.7 81.7h1.0M239.6 80.7h1.0M240.4 82.5h1.0M228.1 83.2h1.0M242.9 79.0h1.0M223.2 87.5h1.0M275.9 77.7h1.0M238.6 84.5h1.0M272.1 75.7h1.0M263.7 86.0h1.0M263.7 74.7h1.0M266.9 82.6h1.0M250.9 82.0h1.0M270.3 76.0h1.0M252.0 91.7h1.0M251.3 89.0h1.0M241.2 84.0h1.0M284.3 70.1h1.0M287.4 38.8h1.0M280.4 74.0h1.0M243.8 86.3h1.0M249.9 82.4h1.0M248.8 88.7h1.0M233.4 78.6h1.0M230.3 93.5h1.0M249.8 96.0h1.0M259.0 86.4h1.0M284.8 84.7h1.0M281.2 54.0h1.0M255.6 91.4h1.0M256.7 83.3h1.0M242.0 92.8h1.0M227.7 88.9h1.0M266.1 86.9h1.0M244.3 86.2h1.0M283.9 23.4h1.0M286.3 27.1h1.0M257.9 96.9h1.0M272.4 68.3h1.0M258.3 83.3h1.0M256.9 82.8h1.0M228.3 96.7h1.0M280.6 38.0h1.0M225.7 84.4h1.0M245.9 93.7h1.0M288.0 8.0h1.0M290.9 19.5h1.0M275.0 46.7h1.0M242.6 85.1h1.0M285.9 27.7h1.0M257.5 82.2h1.0M287.6 67.1h1.0M240.2 86.2h1.0M243.3 78.1h1.0M260.2 80.1h1.0M241.0 85.6h1.0M258.7 82.9h1.0M257.2 82.2h1.0M245.1 83.3h1.0M262.5 86.8h1.0M291.2 12.6h1.0M280.6 20.0h1.0M269.3 81.4h1.0M246.1 91.0h1.0M286.4 8.0h1.0M256.1 86.2h1.0M246.7 92.7h1.0M266.0 64.4h1.0M285.0 74.8h1.0M270.9 83.1h1.0M287.2 67.8h1.0M234.2 90.9h1.0M250.6 86.2h1.0M276.4 78.6h1.0M231.7 99.7h1.0M283.9 30.5h1.0M252.9 85.8h1.0M260.2 77.8h1.0M275.7 81.8h1.0M289.4 13.2h1.0M247.6 90.1h1.0M225.2 92.7h1.0M286.8 39.7h1.0M284.5 9.6h1.0M280.6 77.5h1.0M286.7 35.1h1.0M259.1 80.1h1.0M260.3 85.4h1.0M256.7 79.3h1.0M288.0 27.8h1.0M245.9 78.9h1.0M243.8 97.8h1.0M292.3 25.0h1.0M252.4 77.0h1.0M271.8 84.5h1.0M276.7 46.8h1.0M259.3 81.8h1.0M238.3 95.7h1.0M248.6 84.8h1.0M279.7 73.0h1.0M241.9 91.9h1.0M260.8 81.6h1.0M270.0 86.9h1.0M271.5 81.0h1.0M290.8 22.0h1.0M246.6 92.4h1.0M265.2 77.5h1.0M255.9 84.5h1.0M285.2 69.0h1.0M249.0 88.0h1.0M219.4 96.6h1.0M252.2 88.8h1.0" stroke="#000" stroke-width="1.0" stroke-opacity="0.90" fill="none"/>
<path d="M224.4 100.3h1.0M265.4 86.8h1.0M247.9 97.5h1.0M272.1 82.2h1.0M287.8 3.4h1.0M246.2 84.5h1.0M251.7 83.2h1.0M263.2 85.5h1.0M251.9 87.1h1.0M255.6 83.0h1.0M266.2 82.9h1.0M232.1 94.9h1.0M284.2 4.3h1.0M256.0 82.0h1.0M283.7 75.5h1.0M289.6 23.8h1.0M278.7 13.1h1.0M252.9 80.2h1.0M284.4 42.5h1.0M239.4 82.2h1.0M252.8 88.3h1.0M245.3 87.6h1.0M283.9 69.3h1.0M244.3 81.9h1.0M259.7 90.3h1.0M263.9 78.2h1.0M228.6 88.6h1.0M257.7 82.4h1.0M246.4 94.3h1.0M250.8 84.9h1.0M283.5 75.0h1.0M261.9 87.1h1.0M289.8 7.6h1.0M259.7 90.1h1.0M282.6 15.4h1.0M253.5 90.2h1.0M286.7 16.8h1.0M250.2 83.4h1.0M222.7 88.3h1.0M268.5 10.1h1.0M291.7 7.7h1.0M233.3 96.0h1.0M255.1 81.6h1.0M231.0 78.7h1.0M281.8 27.3h1.0M289.9 6.1h1.0M259.6 78.8h1.0M237.6 90.4h1.0M252.9 91.7h1.0M265.8 87.4h1.0M279.1 27.3h1.0M286.0 29.1h1.0M255.1 82.5h1.0M242.4 93.9h1.0M237.6 91.4h1.0M236.0 95.4h1.0M289.2 13.8h1.0M276.5 76.9h1.0M228.4 91.5h1.0M243.7 92.6h1.0M289.4 63.4h1.0M265.8 80.1h1.0M250.2 85.6h1.0M254.2 93.0h1.0M230.6 99.6h1.0M263.8 77.4h1.0M260.0 93.8h1.0M251.4 84.5h1.0M235.3 89.3h1.0M231.2 85.9h1.0M283.8 69.8h1.0M282.9 9.9h1.0M251.9 74.6h1.0M230.4 78.5h1.0M283.4 68.7h1.0M250.5 87.8h1.0M287.3 36.7h1.0M277.4 48.4h1.0M252.5 90.7h1.0M295.2 61.6h1.0M245.6 96.2h1.0M284.5 53.6h1.0M262.4 78.6h1.0M245.3 83.2h1.0M244.5 87.4h1.0M258.2 93.9h1.0M285.9 65.7h1.0M269.9 83.7h1.0M244.1 84.1h1.0M287.8 7.9h1.0M254.7 82.4h1.0M236.4 95.7h1.0M254.0 86.2h1.0M253.2 77.0h1.0M284.0 72.9h1.0M217.8 87.5h1.0M284.5 55.2h1.0M243.2 90.5h1.0M287.5 16.6h1.0M277.4 76.3h1.0M237.2 84.8h1.0M255.6 85.5h1.0M268.8 87.3h1.0M258.0 79.9h1.0M277.1 28.5h1.0M251.7 86.1h1.0M249.8 90.2h1.0M248.0 85.9h1.0M264.8 77.9h1.0M231.4 96.8h1.0M283.3 71.1h1.0M265.1 76.1h1.0M224.0 93.0h1.0M251.8 75.1h1.0M287.6 62.2h1.0M265.0 79.8h1.0M250.8 80.1h1.0M261.0 88.3h1.0M257.0 69.9h1.0M250.5 96.1h1.0M232.5 97.5h1.0M242.8 85.5h1.0M286.2 5.7h1.0M286.4 50.8h1.0M290.6 12.6h1.0M259.6 89.7h1.0M265.7 96.4h1.0M274.1 87.6h1.0M280.3 79.6h1.0M277.8 52.1h1.0M261.1 80.4h1.0M235.6 96.3h1.0M286.3 3.8h1.0M260.8 90.1h1.0M254.9 78.6h1.0M246.8 82.9h1.0M260.8 82.6h1.0M248.4 14.7h1.0M232.5 100.5h1.0M273.4 85.9h1.0M255.1 83.6h1.0M283.0 70.1h1.0M246.8 87.6h1.0M240.8 79.6h1.0M260.9 83.4h1.0M280.4 9.2h1.0M233.8 88.0h1.0M255.6 98.2h1.0M244.9 86.6h1.0M245.7 94.4h1.0M260.0 88.1h1.0M277.8 78.3h1.0M249.9 90.9h1.0M289.5 72.7h1.0M283.4 36.9h1.0M274.2 68.7h1.0M263.1 85.1h1.0M252.7 89.6h1.0M229.0 82.3h1.0M284.6 17.2h1.0M249.5 87.7h1.0M279.5 41.5h1.0M241.0 96.0h1.0M243.0 89.3h1.0M271.2 81.8h1.0M288.8 65.0h1.0M284.2 26.2h1.0M291.2 62.7h1.0M249.2 89.7h1.0M249.1 81.6h1.0M289.0 65.7h1.0M257.1 92.3h1.0M250.1 78.5h1.0M267.8 88.4h1.0M288.2 66.6h1.0M282.1 22.4h1.0M274.7 80.3h1.0M257.5 86.4h1.0M249.4 96.9h1.0M230.4 88.3h1.0M246.2 90.2h1.0M230.0 89.2h1.0M239.0 92.6h1.0M242.0 77.0h1.0M263.9 90.9h1.0M255.4 83.8h1.0M269.9 87.4h1.0M295.6 20.0h1.0M279.6 18.2h1.0M280.6 71.8h1.0M290.2 16.9h1.0M283.1 76.0h1.0M251.1 92.3h1.0M239.4 87.8h1.0M265.2 78.5h1.0M270.4 88.6h1.0M267.9 79.1h1.0M241.2 86.7h1.0M285.6 13.1h1.0M273.3 56.1h1.0M247.5 87.7h1.0M284.5 9.2h1.0M267.6 78.9h1.0M256.5 89.0h1.0M258.0 78.0h1.0M281.0 83.9h1.0M280.3 69.5h1.0M246.1 80.9h1.0M267.7 73.4h1.0M256.4 87.1h1.0M254.6 85.4h1.0M247.6 86.4h1.0M237.0 92.7h1.0M280.1 33.5h1.0M220.9 95.2h1.0M258.6 81.0h1.0M244.1 100.9h1.0M254.6 83.8h1.0M289.1 82.2h1.0M246.0 80.6h1.0M262.2 86.6h1.0M287.7 13.6h1.0M251.0 86.4h1.0M264.8 79.0h1.0M242.3 98.8h1.0M262.1 90.1h1.0M250.1 80.3h1.0M261.9 76.8h1.0M274.7 85.2h1.0M284.2 69.0h1.0M239.9 87.0h1.0M246.2 82.9h1.0M251.9 95.2h1.0M265.0 70.2h1.0M279.3 43.5h1.0M252.6 92.9h1.0M229.9 96.5h1.0M284.0 9.5h1.0M248.0 79.3h1.0M278.4 81.4h1.0M263.3 76.6h1.0M279.8 75.5h1.0M241.7 92.0h1.0M247.9 96.1h1.0M285.6 81.5h1.0M238.3 96.8h1.0M288.2 66.0h1.0M263.4 73.5h1.0M266.9 80.1h1.0M260.7 78.2h1.0M260.4 84.2h1.0M273.6 51.0h1.0M242.3 87.2h1.0M286.8 65.8h1.0M245.9 89.8h1.0M276.1 79.8h1.0M263.8 85.8h1.0M280.2 30.1h1.0M283.9 49.9h1.0M281.9 23.8h1.0M243.5 88.2h1.0M289.6 66.0h1.0M264.5 78.9h1.0M250.8 87.7h1.0M263.1 88.2h1.0M292.8 50.7h1.0M249.9 75.6h1.0M261.4 95.0h1.0M244.9 86.4h1.0M223.0 96.5h1.0M242.8 86.1h1.0M259.7 80.7h1.0M254.1 84.3h1.0M256.6 80.6h1.0M258.2 86.4h1.0M262.9 70.9h1.0M256.7 83.5h1.0M267.7 91.4h1.0M250.9 81.7h1.0M240.3 95.9h1.0M282.9 75.2h1.0M224.5 94.7h1.0M281.2 41.2h1.0M280.4 27.7h1.0M285.3 35.4h1.0M244.8 93.9h1.0M262.1 84.7h1.0M233.6 88.3h1.0M245.1 92.1h1.0M234.7 92.4h1.0M295.3 60.4h1.0M254.3 90.3h1.0M232.6 83.8h1.0M255.2 95.5h1.0M229.5 100.3h1.0M285.9 9.4h1.0M274.0 79.3h1.0M244.6 87.6h1.0M286.4 13.4h1.0M255.8 86.7h1.0M258.4 80.8h1.0M288.3 64.4h1.0M244.3 89.1h1.0M239.9 93.1h1.0M223.6 93.4h1.0M253.1 98.1h1.0M283.8 62.4h1.0M257.8 87.3h1.0M239.8 90.9h1.0M279.4 72.9h1.0M223.6 90.2h1.0M216.5 100.0h1.0M233.8 94.8h1.0M256.2 76.6h1.0M246.0 98.9h1.0M247.7 100.0h1.0M251.3 83.0h1.0M271.0 81.8h1.0M243.0 83.0h1.0M238.3 92.4h1.0M249.7 89.0h1.0M255.7 88.7h1.0M280.7 11.3h1.0M274.8 82.8h1.0M256.0 87.5h1.0M286.3 25.2h1.0M287.5 65.2h1.0M259.6 87.7h1.0M239.5 84.1h1.0M289.0 69.9h1.0M268.2 79.0h1.0M252.9 82.6h1.0M284.3 33.7h1.0M221.1 96.7h1.0M289.4 25.5h1.0M253.0 88.7h1.0M251.3 82.7h1.0M242.9 87.6h1.0M240.0 91.4h1.0M245.0 82.9h1.0M288.8 39.7h1.0M225.0 87.5h1.0M244.5 95.3h1.0M276.8 78.8h1.0M289.3 20.9h1.0M244.2 83.9h1.0M266.9 82.2h1.0M279.9 10.1h1.0M257.1 90.3h1.0M242.3 86.6h1.0M244.6 84.3h1.0M287.4 15.9h1.0M247.5 91.8h1.0M279.7 70.7h1.0M262.6 83.7h1.0M252.7 86.9h1.0M282.0 72.5h1.0M233.8 81.7h1.0M252.7 83.0h1.0M274.5 80.5h1.0M265.7 81.4h1.0M258.4 96.7h1.0M275.4 87.0h1.0M221.2 79.9h1.0M246.2 91.9h1.0M252.3 96.1h1.0M250.2 92.7h1.0M262.1 79.6h1.0M244.3 90.4h1.0M248.3 80.4h1.0M279.6 36.8h1.0M257.8 86.4h1.0M241.8 82.3h1.0M233.8 76.3h1.0M242.8 85.3h1.0M255.1 88.9h1.0M262.8 82.5h1.0M279.8 75.1h1.0M269.5 84.3h1.0M251.3 84.4h1.0M216.5 93.2h1.0M235.3 95.6h1.0M244.5 91.9h1.0M253.0 84.3h1.0M226.9 76.0h1.0M256.7 95.8h1.0M249.8 86.6h1.0M234.9 78.6h1.0M235.3 86.6h1.0M259.4 77.7h1.0M273.9 83.3h1.0M286.0 16.4h1.0M290.5 17.9h1.0M259.0 87.3h1.0M243.8 99.0h1.0M264.5 91.1h1.0M271.8 82.5h1.0M283.5 65.9h1.0M250.7 87.4h1.0M288.8 26.2h1.0M274.6 53.8h1.0M252.9 82.0h1.0M261.1 86.4h1.0M285.4 12.8h1.0M227.0 83.8h1.0M267.3 84.7h1.0M259.4 88.1h1.0M288.4 29.5h1.0M242.0 85.7h1.0M250.7 86.3h1.0M237.2 93.2h1.0M289.9 65.1h1.0M249.9 84.6h1.0M218.6 98.0h1.0M256.3 85.9h1.0M258.8 85.4h1.0M257.4 85.2h1.0M255.1 90.2h1.0M265.2 84.3h1.0M270.4 76.0h1.0M253.0 89.8h1.0M231.7 88.0h1.0M249.9 84.6h1.0M263.6 82.4h1.0M284.6 65.5h1.0M217.6 96.8h1.0M259.4 80.4h1.0M275.0 81.7h1.0M263.8 76.7h1.0M254.1 87.6h1.0M288.5 8.0h1.0M255.3 88.4h1.0M287.8 30.8h1.0M280.7 5.5h1.0M246.2 95.0h1.0M245.7 87.9h1.0M237.2 93.3h1.0M231.2 96.8h1.0M248.0 84.7h1.0M241.9 95.4h1.0M260.1 87.9h1.0M228.7 96.2h1.0M279.7 77.2h1.0M257.7 81.7h1.0M277.7 89.4h1.0M241.6 94.2h1.0M227.7 94.9h1.0M282.7 47.0h1.0M219.2 87.4h1.0M283.1 36.8h1.0M269.6 82.1h1.0M287.1 69.8h1.0M286.1 23.7h1.0M283.6 67.6h1.0M248.4 88.0h1.0M293.0 13.6h1.0M285.1 42.8h1.0M260.4 79.1h1.0M243.8 87.3h1.0M246.7 81.4h1.0M279.7 32.4h1.0M234.7 80.8h1.0M281.0 48.0h1.0M255.9 85.7h1.0M261.1 82.8h1.0M253.9 91.6h1.0M258.1 82.0h1.0M254.4 84.2h1.0M273.9 81.1h1.0M253.4 97.5h1.0M217.2 84.8h1.0M260.2 81.8h1.0M256.2 86.1h1.0M235.0 87.0h1.0M282.0 30.2h1.0M286.3 7.7h1.0M287.8 20.3h1.0M257.5 79.2h1.0M287.4 17.4h1.0M256.0 94.0h1.0M257.4 82.3h1.0M228.8 88.3h1.0M275.2 76.8h1.0M261.9 88.1h1.0M218.2 84.5h1.0M239.5 93.5h1.0M241.1 82.6h1.0M275.7 55.1h1.0M288.1 74.4h1.0M264.4 84.0h1.0M249.3 83.0h1.0M279.3 78.4h1.0M251.6 94.3h1.0M266.4 78.5h1.0M253.7 74.9h1.0M290.6 65.5h1.0M244.8 94.3h1.0M281.9 79.4h1.0M291.9 19.6h1.0M241.4 90.3h1.0M239.1 90.9h1.0M281.3 74.0h1.0M256.1 88.2h1.0M252.4 90.0h1.0M239.3 87.3h1.0M285.1 7.5h1.0M282.3 17.8h1.0M272.6 77.9h1.0" stroke="#000" stroke-width="1.0" stroke-opacity="0.60" fill="none"/>
<path d="M228.9 100.4h1.0M265.7 84.5h1.0M267.7 87.0h1.0M244.2 93.8h1.0M277.0 85.2h1.0M238.5 94.0h1.0M247.6 93.1h1.0M225.7 100.2h1.0M258.1 84.6h1.0M291.8 57.6h1.0M245.4 84.9h1.0M246.0 95.8h1.0M259.8 88.4h1.0M288.9 38.6h1.0M260.0 92.2h1.0M286.6 67.5h1.0M237.0 80.9h1.0M264.0 82.0h1.0M261.3 84.7h1.0M261.9 90.9h1.0M247.7 86.4h1.0M258.6 81.3h1.0M262.7 81.2h1.0M278.9 81.6h1.0M254.4 89.2h1.0M245.4 80.3h1.0M248.8 89.5h1.0M281.8 14.1h1.0M241.2 79.4h1.0M268.1 81.8h1.0M255.1 76.5h1.0M226.1 84.4h1.0M223.6 79.3h1.0M265.0 83.0h1.0M243.6 86.2h1.0M255.6 97.3h1.0M257.7 84.1h1.0M248.7 83.6h1.0M281.6 38.4h1.0M285.4 75.7h1.0M249.1 92.4h1.0M263.5 76.1h1.0M289.7 15.0h1.0M251.9 79.1h1.0M243.3 95.9h1.0M243.4 77.2h1.0M268.7 78.7h1.0M246.3 92.4h1.0M279.1 42.4h1.0M275.7 71.8h1.0M251.1 89.3h1.0M256.0 96.7h1.0M265.6 74.2h1.0M235.6 89.5h1.0M251.2 76.2h1.0M247.5 89.0h1.0M284.3 9.2h1.0M230.4 50.3h1.0M246.1 87.9h1.0M285.4 7.4h1.0M235.2 99.2h1.0M268.2 82.2h1.0M281.3 40.6h1.0M253.1 83.0h1.0M243.2 81.9h1.0M275.0 84.2h1.0M280.2 55.6h1.0M253.6 78.9h1.0M255.5 89.7h1.0M257.3 75.7h1.0M224.7 91.1h1.0M241.4 94.6h1.0M286.2 4.6h1.0M245.5 83.7h1.0M258.0 79.0h1.0M256.7 89.6h1.0M274.3 39.4h1.0M285.9 68.2h1.0M234.8 100.8h1.0M288.4 33.5h1.0M253.9 92.4h1.0M247.3 88.8h1.0M263.6 82.2h1.0M275.0 82.0h1.0M231.1 97.9h1.0M251.2 90.3h1.0M217.6 78.5h1.0M245.2 87.6h1.0M269.5 79.5h1.0M279.3 77.5h1.0M257.1 81.0h1.0M256.6 82.7h1.0M252.0 85.7h1.0M240.8 95.6h1.0M275.3 74.9h1.0M262.0 85.5h1.0M286.5 32.3h1.0M291.5 22.6h1.0M268.0 80.3h1.0M281.7 78.9h1.0M248.9 96.2h1.0M251.8 93.0h1.0M268.6 87.5h1.0M234.5 92.1h1.0M267.8 83.6h1.0M254.1 83.1h1.0M276.0 88.9h1.0M256.7 80.6h1.0M247.2 95.8h1.0M240.8 93.0h1.0M284.7 83.1h1.0M291.2 64.6h1.0M252.6 91.8h1.0M252.7 84.9h1.0M292.4 62.3h1.0M258.9 92.1h1.0M233.4 100.7h1.0M282.9 76.2h1.0M266.0 74.5h1.0M230.0 95.0h1.0M285.9 85.3h1.0M227.5 93.4h1.0M290.6 29.5h1.0M247.8 97.3h1.0M266.3 84.2h1.0M219.0 96.5h1.0M235.9 97.1h1.0M264.2 75.6h1.0M272.0 76.4h1.0M245.2 86.6h1.0M256.7 84.6h1.0M284.9 40.7h1.0M267.7 79.5h1.0M286.4 38.3h1.0M286.7 3.4h1.0M248.6 89.2h1.0M286.2 7.4h1.0M243.7 84.3h1.0M285.6 13.4h1.0M261.4 77.8h1.0M279.7 70.4h1.0M280.5 30.6h1.0M282.8 68.6h1.0M245.5 92.3h1.0M228.7 85.9h1.0M238.4 34.1h1.0M258.9 89.6h1.0M252.2 87.8h1.0M244.2 86.7h1.0M257.2 80.6h1.0M288.9 66.9h1.0M287.2 46.6h1.0M250.4 86.7h1.0M265.4 76.8h1.0M231.0 96.0h1.0M234.5 89.1h1.0M239.9 91.0h1.0M233.7 95.3h1.0M240.6 76.2h1.0M254.8 85.9h1.0M252.4 82.7h1.0M283.2 73.3h1.0M280.5 73.5h1.0M226.5 100.2h1.0M262.8 89.9h1.0M257.1 90.0h1.0M259.2 92.8h1.0M250.0 86.1h1.0M238.2 91.9h1.0M256.8 85.5h1.0M243.3 92.5h1.0M292.9 17.7h1.0M239.3 90.8h1.0M219.4 84.2h1.0M272.8 73.4h1.0M288.9 50.0h1.0M234.5 79.3h1.0M288.3 5.9h1.0M282.8 9.0h1.0M265.1 71.9h1.0M237.0 82.2h1.0M270.9 87.0h1.0M279.1 71.4h1.0M259.2 95.1h1.0M251.5 81.8h1.0M257.7 80.6h1.0M253.8 85.8h1.0M284.0 68.8h1.0M229.6 94.3h1.0M279.0 54.2h1.0M254.1 83.6h1.0M276.9 77.0h1.0M281.6 15.5h1.0M282.7 84.3h1.0M247.4 91.0h1.0M291.5 31.7h1.0M256.8 86.6h1.0M241.2 100.4h1.0M247.0 86.3h1.0M267.8 84.8h1.0M240.2 95.4h1.0M280.0 38.0h1.0M246.2 82.3h1.0M252.0 92.6h1.0M285.6 5.4h1.0M283.3 51.4h1.0M268.2 77.9h1.0M257.3 92.9h1.0M260.6 91.6h1.0M223.9 96.1h1.0M255.8 84.0h1.0M278.4 52.4h1.0M279.4 73.3h1.0M233.6 92.5h1.0M244.7 96.2h1.0M262.2 93.0h1.0M253.9 90.5h1.0M228.1 101.0h1.0M276.9 74.7h1.0M255.0 76.1h1.0M254.9 92.2h1.0M252.4 88.8h1.0M283.9 72.3h1.0M292.5 17.8h1.0M245.6 90.6h1.0M236.8 90.1h1.0M256.7 90.7h1.0M275.1 71.7h1.0M231.9 89.5h1.0M256.2 84.5h1.0M264.6 82.3h1.0M278.7 82.8h1.0M257.2 92.0h1.0M256.3 87.7h1.0M282.6 47.9h1.0M268.8 83.7h1.0M272.6 83.4h1.0M284.4 7.5h1.0M240.7 86.0h1.0M265.0 83.3h1.0M270.9 89.9h1.0M284.9 67.7h1.0M250.2 78.3h1.0M285.0 34.5h1.0M289.2 9.0h1.0M255.1 86.1h1.0M261.9 77.6h1.0M281.1 73.1h1.0M242.3 79.6h1.0M267.1 80.2h1.0M241.6 98.4h1.0M261.0 74.2h1.0M218.2 93.2h1.0M283.7 41.1h1.0M287.8 68.4h1.0M253.0 86.3h1.0M223.7 96.6h1.0M289.8 10.0h1.0M291.4 5.3h1.0M271.8 75.1h1.0M289.9 36.4h1.0M293.0 24.0h1.0M244.9 86.9h1.0M285.5 67.9h1.0M256.2 83.8h1.0M251.8 81.9h1.0M256.9 88.3h1.0M291.8 65.1h1.0M264.3 76.6h1.0M257.8 76.9h1.0M258.2 78.1h1.0M219.0 86.6h1.0M256.8 83.4h1.0M287.2 68.7h1.0M244.9 91.6h1.0M275.3 83.2h1.0M245.6 89.8h1.0M273.8 72.9h1.0M281.1 52.4h1.0M282.3 71.5h1.0M256.4 91.1h1.0M272.7 80.6h1.0M272.7 85.8h1.0M278.9 83.1h1.0M256.6 93.6h1.0M224.4 77.9h1.0M253.8 81.4h1.0M227.2 93.5h1.0M248.3 82.7h1.0M219.4 89.3h1.0M279.2 78.8h1.0M273.8 93.5h1.0M253.1 80.4h1.0M234.0 84.7h1.0M255.8 92.6h1.0M253.5 79.9h1.0M240.9 91.3h1.0M294.3 23.7h1.0M238.1 93.8h1.0M289.3 16.2h1.0M246.6 99.4h1.0M217.0 78.3h1.0M236.4 89.0h1.0M231.9 90.1h1.0M245.6 89.7h1.0M282.6 23.8h1.0M267.2 72.9h1.0M240.1 84.6h1.0M227.8 93.1h1.0M261.8 88.1h1.0M281.1 71.7h1.0M254.5 93.6h1.0M247.0 80.3h1.0M257.4 88.6h1.0M240.6 83.2h1.0M253.9 82.6h1.0M232.7 94.8h1.0M264.9 80.6h1.0M244.4 90.8h1.0M259.1 76.5h1.0M279.7 37.2h1.0M287.1 24.7h1.0M260.5 96.9h1.0M253.7 80.9h1.0M287.1 37.9h1.0M287.4 17.6h1.0M281.7 73.4h1.0M255.2 86.8h1.0M247.8 82.8h1.0M278.4 85.0h1.0M276.8 92.3h1.0M273.0 80.9h1.0M267.2 83.1h1.0M278.9 74.9h1.0M230.3 93.7h1.0M288.4 31.8h1.0M240.8 93.6h1.0M256.6 83.2h1.0M234.6 36.9h1.0M292.6 14.8h1.0M284.0 67.8h1.0M262.3 76.4h1.0M281.6 82.6h1.0M267.1 79.3h1.0M285.8 15.5h1.0M285.8 38.9h1.0M289.2 10.0h1.0M289.2 14.0h1.0M283.0 12.9h1.0M275.9 51.7h1.0M257.1 79.2h1.0M271.0 75.7h1.0M243.2 99.9h1.0M229.8 91.3h1.0M267.3 79.8h1.0M275.1 38.9h1.0M245.7 81.6h1.0M260.8 87.4h1.0M284.8 4.3h1.0M287.6 68.1h1.0M254.8 97.1h1.0M279.3 7.4h1.0M281.4 21.2h1.0M283.4 27.1h1.0M244.7 83.4h1.0M254.3 85.1h1.0M288.1 66.4h1.0M281.5 33.5h1.0M293.3 4.4h1.0M247.7 87.9h1.0M286.6 25.5h1.0M269.2 70.6h1.0M280.4 70.9h1.0M247.7 85.3h1.0M260.4 78.2h1.0M259.7 80.0h1.0M290.4 4.4h1.0M226.2 92.9h1.0M242.2 82.8h1.0M237.1 79.6h1.0M252.2 90.2h1.0M217.9 92.2h1.0M265.7 80.5h1.0M239.5 93.9h1.0M288.5 56.2h1.0M281.8 71.9h1.0M265.5 78.1h1.0M274.3 77.0h1.0M287.9 41.9h1.0M278.6 86.4h1.0M287.2 15.0h1.0M252.0 83.3h1.0M286.1 34.0h1.0M283.4 53.3h1.0M238.4 86.3h1.0M241.4 94.0h1.0M267.7 81.4h1.0M256.2 80.2h1.0M283.1 9.0h1.0M244.1 76.2h1.0M286.0 17.8h1.0M265.3 82.1h1.0M226.9 82.3h1.0M237.3 84.7h1.0M279.0 87.1h1.0M247.0 87.3h1.0M286.5 9.0h1.0M267.2 79.7h1.0M248.8 90.6h1.0M250.8 78.7h1.0M287.1 82.3h1.0M267.7 84.9h1.0M243.0 83.4h1.0M219.2 95.8h1.0M271.2 74.3h1.0M283.6 7.0h1.0M250.2 86.5h1.0M282.8 67.6h1.0M255.5 84.4h1.0M244.3 87.1h1.0M246.5 59.5h1.0M286.1 6.7h1.0M258.3 87.4h1.0M292.7 18.4h1.0M270.9 76.0h1.0M281.4 41.0h1.0M258.9 74.1h1.0M241.1 80.6h1.0M266.2 85.5h1.0M286.1 5.9h1.0M244.0 82.0h1.0M242.6 78.8h1.0M254.4 100.6h1.0M230.6 92.7h1.0M276.5 77.7h1.0M238.8 93.6h1.0M283.6 23.9h1.0M277.6 38.9h1.0M285.5 70.0h1.0M280.1 68.2h1.0M260.9 81.8h1.0M253.5 88.9h1.0M255.2 86.7h1.0M216.4 40.7h1.0M248.2 90.2h1.0M259.4 79.4h1.0M219.1 97.0h1.0M246.6 87.0h1.0M256.6 88.0h1.0M281.1 38.5h1.0M286.6 23.5h1.0M260.6 86.0h1.0M262.0 87.5h1.0M248.7 83.8h1.0M257.7 80.5h1.0M295.9 12.9h1.0M244.0 82.4h1.0M263.4 93.4h1.0M269.4 97.4h1.0M219.5 89.6h1.0M241.0 97.4h1.0M251.9 97.4h1.0M229.8 88.7h1.0M239.4 87.0h1.0M247.4 89.9h1.0M244.4 79.4h1.0M283.2 31.9h1.0M290.8 33.1h1.0M257.5 76.8h1.0M242.4 92.9h1.0M286.8 53.1h1.0M242.8 84.1h1.0M261.7 76.7h1.0M273.7 82.0h1.0M283.8 68.0h1.0M280.5 70.2h1.0M297.3 22.4h1.0M288.3 38.9h1.0M289.0 14.0h1.0M282.8 35.9h1.0M249.3 91.8h1.0M237.5 95.0h1.0M240.3 88.7h1.0M248.6 98.4h1.0M255.7 85.4h1.0M285.7 35.1h1.0M235.7 83.6h1.0M280.3 5.8h1.0M265.4 97.3h1.0M242.1 94.7h1.0M259.6 76.3h1.0M281.5 68.7h1.0M290.2 14.6h1.0M226.6 93.9h1.0M267.5 84.8h1.0M275.5 79.8h1.0M251.1 81.1h1.0M255.2 87.3h1.0M284.6 70.9h1.0M244.0 88.7h1.0M277.5 74.2h1.0M291.5 5.0h1.0M260.7 73.1h1.0M275.2 84.4h1.0M259.9 76.8h1.0M253.7 84.1h1.0M285.6 6.8h1.0M249.1 82.9h1.0M280.2 44.0h1.0" stroke="#000" stroke-width="1.0" stroke-opacity="0.38" fill="none"/>
<path d="M215.2 2.0H341.2L341.2 102.4L215.2 102.4Z" fill="none" stroke="#151515" stroke-width="1.05"/>
<path d="M274.5 2.0V102.4" stroke="#151515" stroke-width="1.25" fill="none"/>
<path d="M215.2 55.7H341.2" stroke="#333" stroke-width="1.1" fill="none"/>
<path d="M216.1 3.6h1.8M275.4 3.6h1.8M216.1 57.3h1.8M275.4 57.3h1.8" stroke="#222" stroke-width="1.5" stroke-opacity="0.8" fill="none"/>
<path d="M224.7 102.4v1.9M215.2 94.8h-2.3M230.2 102.4v1.9M215.2 90.4h-2.3M234.2 102.4v1.9M215.2 87.3h-2.3M237.2 102.4v1.9M215.2 84.9h-2.3M239.7 102.4v1.9M215.2 82.9h-2.3M241.8 102.4v1.9M215.2 81.2h-2.3M243.6 102.4v1.9M215.2 79.7h-2.3M245.3 102.4v1.9M215.2 78.4h-2.3M256.2 102.4v1.9M215.2 69.7h-2.3M261.7 102.4v1.9M215.2 65.3h-2.3M265.7 102.4v1.9M215.2 62.2h-2.3M268.7 102.4v1.9M215.2 59.8h-2.3M271.2 102.4v1.9M215.2 57.8h-2.3M273.3 102.4v1.9M215.2 56.1h-2.3M275.1 102.4v1.9M215.2 54.6h-2.3M276.8 102.4v1.9M215.2 53.3h-2.3M287.7 102.4v1.9M215.2 44.6h-2.3M293.2 102.4v1.9M215.2 40.2h-2.3M297.2 102.4v1.9M215.2 37.1h-2.3M300.2 102.4v1.9M215.2 34.7h-2.3M302.7 102.4v1.9M215.2 32.7h-2.3M304.8 102.4v1.9M215.2 31.0h-2.3M306.6 102.4v1.9M215.2 29.5h-2.3M308.3 102.4v1.9M215.2 28.2h-2.3M319.2 102.4v1.9M215.2 19.5h-2.3M324.7 102.4v1.9M215.2 15.1h-2.3M328.7 102.4v1.9M215.2 12.0h-2.3M331.7 102.4v1.9M215.2 9.6h-2.3M334.2 102.4v1.9M215.2 7.6h-2.3M336.3 102.4v1.9M215.2 5.9h-2.3M338.1 102.4v1.9M215.2 4.4h-2.3M339.8 102.4v1.9M215.2 3.1h-2.3" stroke="#222" stroke-width="0.8" fill="none"/>
<path d="M215.2 102.4v3.2M215.2 102.4h-4.6M246.7 102.4v3.2M215.2 77.3h-4.6M278.2 102.4v3.2M215.2 52.2h-4.6M309.7 102.4v3.2M215.2 27.1h-4.6M341.2 102.4v3.2M215.2 2.0h-4.6" stroke="#222" stroke-width="0.9" fill="none"/>
<path d="M216.0 109.7h2.6M218.1 108.4h1.4M205.8 101.5h2.6M208.2 100.3h1.3M247.5 109.7h2.6M249.6 108.4h1.4M205.8 76.4h2.6M208.2 75.2h1.3M279.0 109.7h2.6M281.1 108.4h1.4M205.8 51.3h2.6M208.2 50.1h1.3M310.5 109.7h2.6M312.6 108.4h1.4M205.8 26.2h2.6M208.2 25.0h1.3M337.2 109.7h2.6M339.3 108.4h1.4M205.8 1.1h2.6M208.2 -0.1h1.3" stroke="#1a1a1a" stroke-width="1.5" stroke-opacity="0.85" fill="none"/>
<path d="M436.0 88.0h1.0M476.2 58.2h1.0M470.5 64.0h1.0M421.8 85.7h1.0M401.4 16.6h1.0M419.9 95.2h1.0M409.2 76.5h1.0M461.1 70.4h1.0M431.8 96.7h1.0M480.8 45.7h1.0M427.1 92.7h1.0M472.8 40.3h1.0M467.6 5.6h1.0M467.9 3.9h1.0M475.7 48.9h1.0M436.5 81.8h1.0M443.4 84.4h1.0M475.2 12.4h1.0M443.5 85.0h1.0M429.5 88.0h1.0M449.3 82.6h1.0M431.9 99.5h1.0M431.3 83.6h1.0M409.8 87.9h1.0M468.0 32.4h1.0M465.4 17.8h1.0M439.9 84.6h1.0M398.9 97.1h1.0M468.7 29.9h1.0M411.6 86.1h1.0M431.9 82.9h1.0M408.4 97.2h1.0M465.2 70.3h1.0M416.2 98.6h1.0M476.7 59.3h1.0M459.3 74.8h1.0M428.1 87.8h1.0M473.5 5.1h1.0M432.1 95.1h1.0M459.4 74.4h1.0M420.3 88.2h1.0M422.9 91.9h1.0M434.6 90.0h1.0M471.9 7.2h1.0M406.8 86.7h1.0M462.9 71.1h1.0M437.0 97.1h1.0M399.2 100.5h1.0M470.3 65.5h1.0M418.1 94.9h1.0M409.3 99.6h1.0M450.8 76.5h1.0M472.9 53.0h1.0M434.8 79.7h1.0M459.3 68.4h1.0M471.8 20.9h1.0M469.7 12.1h1.0M446.5 84.4h1.0M437.2 88.9h1.0M431.1 89.0h1.0M405.2 93.8h1.0M449.0 85.7h1.0M467.1 9.6h1.0M476.1 59.8h1.0M467.4 28.4h1.0M427.9 89.9h1.0M433.9 87.5h1.0M410.2 93.6h1.0M423.7 96.9h1.0M468.4 67.0h1.0M462.3 40.3h1.0M440.8 87.3h1.0M457.3 30.0h1.0M455.0 37.5h1.0M421.1 84.6h1.0M435.6 92.8h1.0M429.1 91.4h1.0M430.0 93.4h1.0M433.9 78.3h1.0M469.0 62.7h1.0M465.5 18.1h1.0M478.6 55.2h1.0M414.5 96.3h1.0M409.0 94.4h1.0M397.4 94.0h1.0M465.9 18.1h1.0M436.8 85.9h1.0M418.6 96.8h1.0M476.5 17.9h1.0M476.3 48.9h1.0M407.3 98.1h1.0M460.0 25.7h1.0M465.4 69.1h1.0M467.2 65.3h1.0M465.6 21.9h1.0M418.8 89.0h1.0M433.1 98.6h1.0M472.2 12.7h1.0M425.7 89.3h1.0M464.0 52.7h1.0M433.0 88.2h1.0M472.0 7.8h1.0M475.0 14.7h1.0M440.9 86.2h1.0M462.7 42.3h1.0M407.0 93.2h1.0M451.2 81.3h1.0M408.1 99.4h1.0M463.8 7.7h1.0M468.4 35.7h1.0M420.1 77.1h1.0M437.3 90.1h1.0M474.2 26.4h1.0M439.7 79.1h1.0M458.1 53.1h1.0M469.4 17.0h1.0M460.9 5.3h1.0M475.6 60.5h1.0M459.1 48.8h1.0M430.8 81.2h1.0M424.4 89.7h1.0M468.6 66.2h1.0M413.3 85.7h1.0M469.3 41.7h1.0M463.5 35.5h1.0M468.0 63.6h1.0M469.4 64.7h1.0M435.5 83.8h1.0M439.0 79.9h1.0M470.4 62.6h1.0M466.0 66.1h1.0M398.0 95.2h1.0M463.0 41.0h1.0M467.8 18.8h1.0M440.7 84.8h1.0M447.9 80.6h1.0M463.0 35.1h1.0M466.4 4.3h1.0M466.5 39.5h1.0M470.0 65.7h1.0M470.4 66.0h1.0M437.9 76.2h1.0M424.7 91.2h1.0M478.2 5.4h1.0M435.4 92.3h1.0M452.5 67.8h1.0M468.5 24.5h1.0M477.1 57.8h1.0M399.4 84.4h1.0M467.2 64.2h1.0M468.2 63.5h1.0M466.5 7.3h1.0M435.2 88.0h1.0M459.6 77.2h1.0M419.0 78.6h1.0M476.0 21.1h1.0M432.7 87.1h1.0M464.1 44.3h1.0M423.3 91.4h1.0M436.7 83.7h1.0M469.7 63.3h1.0M453.8 84.5h1.0M476.3 13.4h1.0M471.9 5.2h1.0M416.1 97.1h1.0M438.2 87.6h1.0M438.0 78.0h1.0M426.8 89.9h1.0M414.5 89.4h1.0M432.0 88.1h1.0M447.2 75.4h1.0M441.1 80.1h1.0M437.2 85.1h1.0M450.1 83.1h1.0M433.9 86.1h1.0M415.9 92.3h1.0M470.5 63.2h1.0M448.6 80.9h1.0M402.3 87.5h1.0M451.8 72.1h1.0M439.8 86.2h1.0M464.3 32.2h1.0M425.6 80.1h1.0M467.0 66.0h1.0M463.1 57.2h1.0M439.8 76.6h1.0M428.7 79.8h1.0M443.8 84.8h1.0M459.6 49.5h1.0M426.1 87.5h1.0M415.8 91.9h1.0M470.8 63.8h1.0M437.9 85.7h1.0M476.1 32.3h1.0M436.0 94.8h1.0M440.8 91.1h1.0M407.2 98.0h1.0M420.9 85.2h1.0M396.0 81.5h1.0M431.1 82.6h1.0M457.1 34.7h1.0M411.0 94.4h1.0M461.1 49.3h1.0M442.4 66.7h1.0M462.9 19.4h1.0M453.2 46.2h1.0M466.3 23.9h1.0M455.7 54.2h1.0M425.9 90.0h1.0M448.0 75.7h1.0M478.9 6.1h1.0M447.9 88.9h1.0M430.4 95.7h1.0M463.2 70.1h1.0M428.2 77.9h1.0M471.8 64.0h1.0M425.9 100.1h1.0M436.3 85.8h1.0M469.1 64.4h1.0M474.5 58.1h1.0M464.6 67.9h1.0M459.1 54.9h1.0M474.4 36.8h1.0M465.5 32.6h1.0M426.3 82.7h1.0M405.0 96.3h1.0M435.9 77.9h1.0M476.8 9.5h1.0M471.2 39.0h1.0M406.0 93.3h1.0M446.6 88.1h1.0M468.3 66.9h1.0M449.1 76.8h1.0M464.6 35.3h1.0M421.8 88.4h1.0M417.6 94.7h1.0M433.9 84.2h1.0M467.6 67.6h1.0M467.2 10.0h1.0M468.2 16.5h1.0M435.2 78.7h1.0M472.7 9.0h1.0M474.8 52.3h1.0M471.7 33.9h1.0M467.0 38.4h1.0M438.6 82.0h1.0M474.1 27.1h1.0M454.7 78.9h1.0M450.9 85.0h1.0M408.9 91.0h1.0M475.5 18.9h1.0M467.2 15.8h1.0M469.9 30.7h1.0M405.5 90.3h1.0M423.2 83.8h1.0M466.9 33.1h1.0M434.7 76.5h1.0M404.3 76.3h1.0M475.6 16.3h1.0M421.7 88.9h1.0M424.3 73.6h1.0M479.7 35.2h1.0M422.9 98.5h1.0M461.5 55.4h1.0M464.0 56.2h1.0M471.4 65.0h1.0M472.5 61.8h1.0M431.5 79.1h1.0M463.1 36.9h1.0M465.7 30.7h1.0M455.4 72.5h1.0M461.6 68.2h1.0M401.0 95.1h1.0M467.5 30.9h1.0M428.2 83.9h1.0M468.2 64.6h1.0M469.8 61.5h1.0M441.6 85.0h1.0M437.6 74.4h1.0M467.0 65.9h1.0M465.9 9.4h1.0M457.7 34.2h1.0M469.9 12.3h1.0M439.0 82.8h1.0M431.0 82.6h1.0M425.0 82.4h1.0M425.8 82.7h1.0M419.4 90.0h1.0M447.8 79.2h1.0M397.0 17.7h1.0M429.9 90.6h1.0M468.8 33.4h1.0M449.3 76.4h1.0M474.3 13.9h1.0M469.0 43.6h1.0M429.2 86.9h1.0M429.2 81.7h1.0M412.5 87.9h1.0M444.0 83.8h1.0M397.2 94.4h1.0M474.9 39.3h1.0M453.0 85.9h1.0M412.0 96.5h1.0M471.3 9.0h1.0M472.4 9.7h1.0M426.8 87.1h1.0M418.7 89.5h1.0M465.5 71.7h1.0M422.0 86.3h1.0M419.8 81.1h1.0M433.3 82.2h1.0M470.2 44.6h1.0M408.2 92.0h1.0M456.0 50.5h1.0M455.4 68.7h1.0M429.8 89.4h1.0M439.0 86.7h1.0M429.6 85.0h1.0M462.9 9.5h1.0M433.7 85.9h1.0M461.3 72.8h1.0M433.9 84.4h1.0M434.2 86.6h1.0M468.8 63.0h1.0M427.3 94.7h1.0M449.1 91.6h1.0M473.5 52.8h1.0M440.4 88.8h1.0M471.2 46.5h1.0M394.3 96.1h1.0M456.2 40.8h1.0M450.9 72.7h1.0M396.5 76.3h1.0M443.5 82.9h1.0M478.9 16.2h1.0M473.4 5.7h1.0M447.2 73.9h1.0M470.9 64.8h1.0M418.5 98.0h1.0M434.4 77.3h1.0M418.0 97.8h1.0M425.7 78.6h1.0M404.6 93.5h1.0M429.1 82.2h1.0M465.7 67.0h1.0M416.7 86.0h1.0M456.1 55.2h1.0M458.3 79.4h1.0M418.3 97.0h1.0M466.8 65.2h1.0M456.5 77.4h1.0M446.5 79.4h1.0M473.3 60.7h1.0M465.9 13.1h1.0M431.1 79.2h1.0M464.9 20.5h1.0M414.8 77.3h1.0M426.3 90.1h1.0M417.3 75.0h1.0M473.2 63.3h1.0M414.2 88.8h1.0M472.3 5.6h1.0M431.4 91.0h1.0M447.8 72.4h1.0M424.3 94.9h1.0M474.0 59.8h1.0M461.6 9.6h1.0M482.9 55.0h1.0M427.5 88.1h1.0M431.9 90.3h1.0M445.6 42.2h1.0M469.0 65.7h1.0M426.9 86.4h1.0M477.1 40.2h1.0M462.5 23.0h1.0M411.5 92.8h1.0M476.3 60.3h1.0" stroke="#000" stroke-width="1.0" stroke-opacity="0.90" fill="none"/>
<path d="M433.1 87.8h1.0M430.8 89.9h1.0M434.7 80.7h1.0M469.7 8.6h1.0M464.3 65.8h1.0M459.2 31.4h1.0M414.6 94.7h1.0M453.8 77.6h1.0M468.3 18.1h1.0M416.6 88.3h1.0M439.7 83.6h1.0M438.4 92.6h1.0M472.5 5.2h1.0M420.6 82.2h1.0M417.7 83.1h1.0M432.7 82.5h1.0M459.4 19.1h1.0M407.4 91.6h1.0M468.7 15.9h1.0M422.4 91.3h1.0M416.0 88.8h1.0M466.8 29.1h1.0M469.0 8.0h1.0M464.9 54.4h1.0M416.0 90.3h1.0M474.2 61.5h1.0M467.1 73.2h1.0M423.0 90.6h1.0M430.8 82.4h1.0M441.7 72.5h1.0M429.3 76.8h1.0M415.6 82.7h1.0M451.6 80.5h1.0M423.1 20.3h1.0M462.3 74.7h1.0M460.1 29.9h1.0M471.2 63.3h1.0M464.6 18.8h1.0M420.3 91.3h1.0M463.7 34.1h1.0M476.7 57.7h1.0M435.6 71.1h1.0M414.5 78.4h1.0M410.8 97.5h1.0M414.8 99.1h1.0M472.5 10.0h1.0M438.0 81.0h1.0M477.0 56.6h1.0M431.0 87.1h1.0M465.1 17.3h1.0M470.1 64.2h1.0M442.8 74.7h1.0M430.1 89.1h1.0M436.3 85.1h1.0M472.2 39.4h1.0M450.7 91.4h1.0M458.5 65.9h1.0M417.2 99.5h1.0M464.6 28.5h1.0M421.7 89.6h1.0M452.5 76.7h1.0M424.2 82.9h1.0M467.1 18.3h1.0M436.8 82.8h1.0M466.1 8.4h1.0M451.2 86.4h1.0M449.8 86.1h1.0M407.9 94.9h1.0M446.6 89.4h1.0M468.8 3.2h1.0M437.8 77.1h1.0M463.7 42.3h1.0M427.8 90.8h1.0M472.2 28.4h1.0M408.1 77.3h1.0M462.3 73.6h1.0M468.5 17.1h1.0M469.2 21.4h1.0M466.8 4.3h1.0M448.2 75.0h1.0M474.1 60.9h1.0M399.4 92.5h1.0M469.1 4.2h1.0M402.0 98.7h1.0M438.7 98.1h1.0M427.9 75.4h1.0M479.0 6.8h1.0M438.4 100.1h1.0M429.7 95.4h1.0M396.2 90.2h1.0M466.4 34.2h1.0M441.6 79.2h1.0M459.8 28.4h1.0M467.9 29.6h1.0M470.7 12.2h1.0M461.5 30.1h1.0M468.1 13.5h1.0M398.9 94.8h1.0M463.1 69.1h1.0M461.3 74.1h1.0M465.4 66.1h1.0M459.8 79.2h1.0M468.3 13.1h1.0M393.6 89.7h1.0M421.6 96.5h1.0M410.5 83.7h1.0M435.2 85.1h1.0M438.3 84.6h1.0M445.0 74.9h1.0M469.5 8.5h1.0M469.9 66.1h1.0M454.2 85.6h1.0M435.6 80.3h1.0M423.6 84.7h1.0M453.9 88.8h1.0M397.3 88.3h1.0M417.6 98.1h1.0M455.8 55.5h1.0M441.4 85.8h1.0M418.1 89.5h1.0M428.5 82.4h1.0M462.9 71.5h1.0M422.5 85.9h1.0M468.1 17.0h1.0M435.4 82.1h1.0M409.4 95.6h1.0M402.3 92.5h1.0M465.3 50.4h1.0M465.9 78.8h1.0M466.3 25.8h1.0M463.8 42.7h1.0M423.5 82.8h1.0M444.0 84.6h1.0M425.4 78.1h1.0M476.0 69.2h1.0M439.2 85.7h1.0M430.9 80.3h1.0M435.7 79.7h1.0M443.8 79.3h1.0M443.8 90.1h1.0M417.9 86.8h1.0M465.1 68.2h1.0M469.9 8.3h1.0M402.2 98.0h1.0M465.5 68.5h1.0M419.2 91.9h1.0M438.9 90.5h1.0M480.1 4.8h1.0M463.6 21.9h1.0M409.8 95.1h1.0M460.4 34.4h1.0M467.4 12.9h1.0M461.7 8.3h1.0M455.0 85.1h1.0M439.7 89.0h1.0M469.2 50.6h1.0M416.3 94.6h1.0M460.9 27.4h1.0M472.7 60.5h1.0M435.0 77.2h1.0M406.0 86.4h1.0M428.9 83.2h1.0M465.3 38.3h1.0M467.2 13.1h1.0M419.5 85.1h1.0M393.8 98.7h1.0M436.8 80.8h1.0M471.4 16.6h1.0M429.3 77.1h1.0M457.7 56.0h1.0M425.8 87.5h1.0M405.2 84.4h1.0M433.9 84.9h1.0M428.5 89.6h1.0M429.9 89.5h1.0M462.7 42.2h1.0M449.2 79.5h1.0M424.7 93.4h1.0M435.0 88.5h1.0M433.2 89.2h1.0M472.8 20.9h1.0M465.4 70.6h1.0M455.4 73.8h1.0M443.7 83.3h1.0M426.1 93.8h1.0M471.7 49.8h1.0M430.2 79.3h1.0M427.8 80.4h1.0M467.8 53.2h1.0M416.8 90.5h1.0M467.3 30.9h1.0M461.7 41.2h1.0M434.2 73.7h1.0M465.2 49.3h1.0M473.4 10.7h1.0M474.5 61.4h1.0M426.0 78.1h1.0M406.8 88.1h1.0M440.6 68.6h1.0M407.5 94.9h1.0M428.6 88.6h1.0M410.3 93.5h1.0M437.2 84.9h1.0M425.6 91.2h1.0M443.7 70.9h1.0M425.5 87.3h1.0M468.1 6.5h1.0M424.2 88.8h1.0M433.7 87.7h1.0M407.2 92.6h1.0M443.7 78.5h1.0M469.7 6.2h1.0M460.3 28.7h1.0M396.8 97.1h1.0M398.9 91.9h1.0M475.3 14.6h1.0M460.9 68.4h1.0M453.8 40.2h1.0M435.8 80.2h1.0M427.7 87.4h1.0M422.0 87.4h1.0M472.9 6.2h1.0M433.9 88.9h1.0M436.2 90.1h1.0M397.5 91.3h1.0M473.5 4.4h1.0M468.0 66.2h1.0M471.0 61.7h1.0M403.1 91.7h1.0M413.9 80.0h1.0M431.9 94.9h1.0M468.8 66.8h1.0M434.4 84.7h1.0M465.1 84.6h1.0M454.5 76.2h1.0M441.0 81.5h1.0M437.4 88.3h1.0M422.0 88.3h1.0M427.7 81.9h1.0M430.2 85.4h1.0M443.7 90.0h1.0M467.2 11.7h1.0M432.4 84.1h1.0M475.5 16.6h1.0M414.6 96.9h1.0M400.2 92.8h1.0M425.2 91.0h1.0M436.3 85.5h1.0M416.6 91.6h1.0M447.7 78.1h1.0M474.9 46.8h1.0M414.4 91.2h1.0M433.0 101.0h1.0M476.9 11.6h1.0M462.2 32.9h1.0M426.0 83.7h1.0M398.0 76.5h1.0M406.1 91.4h1.0M468.7 5.9h1.0M427.6 74.9h1.0M440.8 80.0h1.0M423.3 89.6h1.0M470.9 45.0h1.0M410.5 86.5h1.0M436.4 79.2h1.0M429.4 72.1h1.0M465.9 7.5h1.0M471.6 4.8h1.0M465.0 14.9h1.0M465.0 51.0h1.0M427.1 95.5h1.0M460.8 43.1h1.0M423.9 79.6h1.0M472.2 17.7h1.0M412.1 92.5h1.0M468.1 66.3h1.0M422.9 100.9h1.0M470.0 65.5h1.0M468.1 11.3h1.0M470.9 20.4h1.0M410.7 93.9h1.0M474.6 60.3h1.0M437.0 78.7h1.0M440.1 85.5h1.0M481.5 54.8h1.0M431.4 81.2h1.0M430.9 87.8h1.0M471.2 41.9h1.0M401.9 97.9h1.0M470.6 64.0h1.0M465.7 68.1h1.0M458.9 48.7h1.0M423.1 85.3h1.0M467.0 12.1h1.0M464.8 53.5h1.0M464.6 19.1h1.0M421.2 98.1h1.0M474.8 6.5h1.0M463.8 69.6h1.0M435.7 91.5h1.0M467.3 6.2h1.0M433.0 92.0h1.0M475.8 37.2h1.0M417.8 88.4h1.0M424.2 100.6h1.0M464.5 37.9h1.0M415.1 90.7h1.0M419.1 92.7h1.0M462.1 75.2h1.0M403.0 95.1h1.0M454.2 85.9h1.0M463.8 70.6h1.0M429.7 87.1h1.0M435.8 10.8h1.0M394.3 94.3h1.0M443.3 87.2h1.0M425.8 83.5h1.0M421.6 88.4h1.0M436.2 90.6h1.0M423.6 96.4h1.0M449.0 77.5h1.0M423.5 87.3h1.0M469.7 65.8h1.0M462.9 42.3h1.0M469.8 4.1h1.0M421.3 86.2h1.0M468.2 27.9h1.0M405.2 93.2h1.0M416.0 86.9h1.0M417.3 93.5h1.0M470.8 8.7h1.0M459.3 66.3h1.0M467.8 2.8h1.0M430.3 95.5h1.0M397.5 89.0h1.0M436.7 89.9h1.0M456.6 38.3h1.0M439.7 86.6h1.0M440.0 79.1h1.0M431.9 81.4h1.0M466.5 67.1h1.0M421.6 86.3h1.0M447.2 75.0h1.0M445.1 77.9h1.0M426.2 90.1h1.0M402.5 87.9h1.0M453.8 34.2h1.0M432.3 88.6h1.0M399.8 99.7h1.0M423.1 87.4h1.0M455.2 77.7h1.0M405.2 95.9h1.0M444.0 79.3h1.0M399.0 91.9h1.0M437.2 69.7h1.0M473.0 35.3h1.0M475.2 42.3h1.0M424.5 84.1h1.0M467.0 69.0h1.0M472.3 11.1h1.0M471.7 37.8h1.0M429.1 82.4h1.0M440.0 88.3h1.0M428.0 88.6h1.0M429.9 94.7h1.0M436.7 77.5h1.0M437.4 27.2h1.0M423.9 93.2h1.0M477.0 60.5h1.0M465.1 14.4h1.0M418.3 88.2h1.0M421.8 94.9h1.0M432.1 94.7h1.0M470.8 12.3h1.0M463.9 32.9h1.0M473.1 8.3h1.0M458.7 47.3h1.0M455.9 53.5h1.0M428.9 88.2h1.0M436.6 80.4h1.0M426.9 87.1h1.0M434.7 76.3h1.0M466.2 8.6h1.0M472.7 7.6h1.0M430.2 82.4h1.0M466.8 65.2h1.0M475.6 59.6h1.0M458.1 65.9h1.0M472.1 51.4h1.0M476.2 57.2h1.0M406.8 96.5h1.0M439.4 86.3h1.0M463.9 64.8h1.0M459.7 51.6h1.0M467.7 11.5h1.0M462.1 15.8h1.0M418.8 86.1h1.0M475.4 7.1h1.0M423.4 85.9h1.0M423.4 83.8h1.0M432.7 83.3h1.0M408.6 94.9h1.0M470.3 12.5h1.0M422.0 78.0h1.0M469.4 7.4h1.0M469.0 12.5h1.0M440.7 78.1h1.0M426.9 83.3h1.0M478.1 52.8h1.0M437.3 78.2h1.0M444.1 86.1h1.0M448.1 80.9h1.0M452.9 36.0h1.0M434.5 83.1h1.0M471.0 65.4h1.0M426.1 91.6h1.0M436.0 80.8h1.0M429.1 89.2h1.0M416.7 93.5h1.0M444.9 83.0h1.0M476.5 11.1h1.0M453.8 73.9h1.0M472.7 21.4h1.0M448.8 83.8h1.0M418.0 79.6h1.0M459.4 81.0h1.0M428.7 82.0h1.0M454.6 68.9h1.0M431.4 90.0h1.0M427.6 84.8h1.0M394.8 97.0h1.0M473.7 27.0h1.0M415.1 91.4h1.0M473.8 15.8h1.0M446.5 83.4h1.0M464.8 53.9h1.0M454.7 71.4h1.0M431.1 89.1h1.0M434.7 73.7h1.0M410.2 99.4h1.0M451.9 81.3h1.0M467.3 66.8h1.0M470.5 63.2h1.0M429.3 91.3h1.0M434.1 90.9h1.0M469.7 43.3h1.0M435.5 77.1h1.0M469.6 62.6h1.0M428.5 85.6h1.0M466.6 14.7h1.0M427.9 87.9h1.0M422.4 87.9h1.0M469.4 73.7h1.0M463.3 14.8h1.0M462.7 68.0h1.0M439.4 76.7h1.0M445.5 84.3h1.0M473.0 7.1h1.0M467.2 68.9h1.0M454.4 32.6h1.0M474.4 11.7h1.0M469.2 46.3h1.0M407.7 77.8h1.0M466.0 26.0h1.0M434.2 89.2h1.0M438.2 73.0h1.0M471.4 47.3h1.0M431.2 80.0h1.0M412.5 86.9h1.0M423.4 87.5h1.0M431.2 100.0h1.0M466.6 45.4h1.0M475.4 6.0h1.0M468.0 19.8h1.0M436.3 75.6h1.0M472.9 67.0h1.0M435.8 74.5h1.0M408.0 98.3h1.0M470.7 10.0h1.0M433.2 88.4h1.0M448.1 77.8h1.0M420.4 90.4h1.0M471.7 64.1h1.0M468.4 31.4h1.0M473.7 37.2h1.0M436.2 86.4h1.0M398.5 97.5h1.0M429.3 82.2h1.0M473.0 5.0h1.0M470.4 12.6h1.0M437.1 83.8h1.0M465.9 67.0h1.0M469.8 10.3h1.0M468.2 6.5h1.0M464.9 9.7h1.0M441.9 83.9h1.0M441.4 86.5h1.0M438.4 92.6h1.0M479.8 57.3h1.0M462.0 70.9h1.0M430.0 85.3h1.0M471.4 61.6h1.0M473.3 59.9h1.0M469.5 70.0h1.0M455.5 77.9h1.0M421.1 93.7h1.0M461.9 30.2h1.0M424.8 77.7h1.0M461.0 34.4h1.0M411.1 93.6h1.0M426.9 90.8h1.0M474.1 12.0h1.0M414.2 89.4h1.0M436.7 73.4h1.0M471.5 53.7h1.0M430.9 93.7h1.0M422.8 89.7h1.0M437.1 93.2h1.0M443.2 84.8h1.0M457.9 55.0h1.0M439.7 79.1h1.0M424.4 86.8h1.0M433.2 87.9h1.0M431.7 84.0h1.0M462.5 27.0h1.0M469.6 23.4h1.0M463.5 41.1h1.0M404.7 90.1h1.0M413.8 76.1h1.0M409.0 92.4h1.0M435.0 78.7h1.0M456.1 52.3h1.0M443.0 73.4h1.0M401.8 88.5h1.0M414.3 87.9h1.0M465.2 25.9h1.0M464.4 48.4h1.0M465.8 66.6h1.0M434.2 92.0h1.0M430.2 94.7h1.0M432.2 88.3h1.0M440.8 78.6h1.0M467.9 5.5h1.0M434.8 86.5h1.0M451.7 81.9h1.0M463.1 48.2h1.0M466.3 20.3h1.0M435.2 83.6h1.0M476.2 32.0h1.0M429.6 87.4h1.0M464.8 8.6h1.0M459.7 67.3h1.0M439.8 84.8h1.0M429.4 82.4h1.0M427.3 92.1h1.0M420.9 70.8h1.0M401.9 83.3h1.0M395.8 84.7h1.0M453.0 82.3h1.0M396.5 77.4h1.0M468.0 67.7h1.0M460.7 74.1h1.0M469.4 53.3h1.0M436.0 74.8h1.0M471.4 23.2h1.0M458.7 71.8h1.0" stroke="#000" stroke-width="1.0" stroke-opacity="0.60" fill="none"/>
<path d="M464.6 70.6h1.0M418.4 92.6h1.0M434.9 84.4h1.0M453.2 76.6h1.0M423.0 92.1h1.0M437.2 96.4h1.0M457.5 71.0h1.0M425.0 84.7h1.0M451.3 55.5h1.0M421.0 88.9h1.0M432.3 80.0h1.0M463.7 70.1h1.0M419.1 94.2h1.0M451.8 76.0h1.0M475.4 3.9h1.0M437.1 85.9h1.0M455.6 71.2h1.0M418.9 85.7h1.0M467.2 41.5h1.0M459.4 73.8h1.0M425.0 81.0h1.0M437.0 76.1h1.0M467.0 3.8h1.0M414.8 93.6h1.0M462.4 71.1h1.0M431.5 89.4h1.0M428.4 83.7h1.0M405.5 84.3h1.0M422.1 84.2h1.0M457.4 45.4h1.0M433.7 87.8h1.0M407.1 99.0h1.0M432.2 86.0h1.0M465.3 72.2h1.0M428.6 93.4h1.0M412.2 79.6h1.0M437.8 82.1h1.0M416.9 86.9h1.0M457.5 50.0h1.0M462.3 65.9h1.0M426.0 90.6h1.0M432.2 87.8h1.0M467.5 10.0h1.0M466.4 5.4h1.0M466.5 70.5h1.0M428.9 80.9h1.0M430.4 94.3h1.0M430.7 81.0h1.0M448.2 67.3h1.0M468.8 52.5h1.0M449.5 87.3h1.0M428.7 92.7h1.0M437.1 79.6h1.0M439.4 88.2h1.0M397.7 96.7h1.0M405.9 87.6h1.0M424.7 78.4h1.0M469.3 40.9h1.0M467.1 3.9h1.0M434.9 84.9h1.0M435.0 92.8h1.0M474.6 63.2h1.0M423.2 81.5h1.0M465.9 68.8h1.0M471.8 62.6h1.0M462.8 26.5h1.0M406.4 87.8h1.0M457.1 20.0h1.0M431.5 84.6h1.0M430.5 82.9h1.0M474.7 5.7h1.0M408.8 87.8h1.0M435.0 83.9h1.0M422.5 82.2h1.0M433.9 78.5h1.0M443.2 76.8h1.0M433.6 86.5h1.0M444.9 68.3h1.0M409.7 85.0h1.0M470.4 10.4h1.0M404.7 100.5h1.0M419.5 90.9h1.0M442.1 74.7h1.0M447.6 85.2h1.0M425.3 93.3h1.0M472.1 5.5h1.0M434.5 83.9h1.0M421.1 94.5h1.0M409.2 95.6h1.0M419.8 90.0h1.0M463.0 40.0h1.0M430.1 87.2h1.0M462.1 80.6h1.0M405.4 86.6h1.0M444.3 75.5h1.0M416.2 92.4h1.0M464.4 70.8h1.0M414.0 90.4h1.0M418.2 80.3h1.0M434.2 90.9h1.0M429.6 91.3h1.0M417.9 93.8h1.0M469.9 13.8h1.0M431.4 86.1h1.0M453.2 75.5h1.0M456.0 52.1h1.0M472.6 25.7h1.0M402.9 89.8h1.0M424.4 83.3h1.0M471.1 3.7h1.0M429.6 90.4h1.0M457.2 44.2h1.0M434.1 96.7h1.0M409.1 96.6h1.0M437.7 75.4h1.0M457.2 80.2h1.0M464.6 39.8h1.0M467.8 7.6h1.0M465.5 81.9h1.0M464.4 8.1h1.0M476.9 59.2h1.0M462.3 70.7h1.0M426.2 99.1h1.0M459.3 80.7h1.0M416.1 89.0h1.0M438.6 89.3h1.0M425.3 81.2h1.0M435.6 78.5h1.0M427.4 81.3h1.0M467.0 68.6h1.0M436.7 82.3h1.0M468.7 53.9h1.0M410.0 91.4h1.0M435.8 101.0h1.0M468.1 63.2h1.0M446.2 88.7h1.0M414.8 89.8h1.0M423.4 93.2h1.0M466.3 15.4h1.0M434.6 79.4h1.0M466.1 68.1h1.0M444.3 82.4h1.0M432.2 83.5h1.0M469.4 8.6h1.0M415.0 79.5h1.0M438.8 81.1h1.0M436.4 86.7h1.0M472.7 5.0h1.0M451.1 82.9h1.0M420.0 95.0h1.0M450.2 74.0h1.0M409.3 93.6h1.0M464.4 53.3h1.0M450.9 82.5h1.0M458.1 75.9h1.0M469.6 65.1h1.0M448.4 82.9h1.0M467.5 29.7h1.0M440.4 73.4h1.0M437.3 80.4h1.0M450.5 73.2h1.0M464.2 38.0h1.0M412.2 90.2h1.0M453.5 57.6h1.0M471.0 10.7h1.0M402.5 96.6h1.0M463.8 46.3h1.0M442.0 73.5h1.0M431.0 86.4h1.0M466.7 23.8h1.0M468.9 70.3h1.0M431.4 78.2h1.0M438.1 89.3h1.0M466.7 48.5h1.0M437.1 90.9h1.0M474.1 59.6h1.0M426.5 90.3h1.0M463.6 34.9h1.0M403.7 95.9h1.0M438.7 81.2h1.0M430.2 99.1h1.0M423.1 89.5h1.0M461.4 51.5h1.0M436.1 80.4h1.0M435.3 81.4h1.0M443.9 86.4h1.0M460.1 74.1h1.0M444.4 84.0h1.0M451.3 54.0h1.0M469.4 23.0h1.0M452.0 80.9h1.0M466.6 31.8h1.0M461.3 69.6h1.0M406.3 99.8h1.0M442.9 81.1h1.0M459.4 43.3h1.0M470.7 62.1h1.0M419.3 91.4h1.0M449.2 85.1h1.0M416.1 91.4h1.0M427.9 79.7h1.0M469.4 19.2h1.0M436.8 87.1h1.0M462.0 24.8h1.0M429.2 89.3h1.0M463.4 74.6h1.0M465.0 5.8h1.0M462.5 75.4h1.0M460.3 46.4h1.0M475.8 19.8h1.0M467.6 65.4h1.0M428.5 84.8h1.0M470.1 36.2h1.0M448.4 71.2h1.0M441.0 84.4h1.0M422.4 93.8h1.0M442.8 77.8h1.0M422.1 93.2h1.0M399.7 89.5h1.0M461.6 70.6h1.0M415.0 88.5h1.0M452.3 68.3h1.0M434.0 76.5h1.0M409.3 93.0h1.0M471.3 22.3h1.0M470.7 22.7h1.0M451.0 82.5h1.0M413.0 88.7h1.0M420.7 94.8h1.0M468.1 67.3h1.0M469.7 18.2h1.0M464.8 43.5h1.0M411.4 92.8h1.0M420.8 91.6h1.0M466.4 34.3h1.0M463.7 51.1h1.0M454.7 55.3h1.0M423.1 97.9h1.0M471.3 62.8h1.0M412.7 83.9h1.0M455.3 43.1h1.0M408.6 72.1h1.0M471.9 10.0h1.0M472.7 25.6h1.0M403.0 94.8h1.0M428.3 83.2h1.0M470.3 9.5h1.0M446.4 81.8h1.0M464.6 15.3h1.0M473.0 29.9h1.0M438.0 90.6h1.0M466.8 37.1h1.0M467.1 69.4h1.0M471.3 11.0h1.0M464.7 51.0h1.0M461.4 64.5h1.0M415.0 16.3h1.0M473.8 15.5h1.0M421.1 100.0h1.0M465.2 21.8h1.0M475.9 57.0h1.0M423.5 97.9h1.0M412.9 88.0h1.0M416.0 95.3h1.0M429.1 90.7h1.0M435.9 88.2h1.0M437.1 83.7h1.0M434.3 93.6h1.0M461.0 7.4h1.0M433.8 80.9h1.0M465.4 34.6h1.0M452.4 51.8h1.0M470.6 40.8h1.0M470.0 65.9h1.0M472.8 61.7h1.0M474.6 4.2h1.0M461.3 68.9h1.0M423.5 82.1h1.0M418.9 94.2h1.0M431.6 87.3h1.0M436.2 82.0h1.0M439.8 86.9h1.0M434.9 81.4h1.0M433.4 78.8h1.0M461.7 47.7h1.0M444.7 86.9h1.0M473.8 3.8h1.0M463.7 70.3h1.0M419.4 92.7h1.0M448.6 79.3h1.0M469.7 63.4h1.0M469.5 10.2h1.0M419.9 87.8h1.0M472.8 17.0h1.0M467.2 50.5h1.0M429.5 79.1h1.0M464.6 68.0h1.0M407.4 91.4h1.0M442.0 80.4h1.0M464.3 73.6h1.0M467.6 15.5h1.0M453.4 54.9h1.0M434.8 89.5h1.0M429.8 93.1h1.0M472.1 13.0h1.0M407.8 101.3h1.0M432.5 91.5h1.0M467.3 16.0h1.0M442.1 79.8h1.0M427.3 86.5h1.0M471.6 49.7h1.0M427.6 91.2h1.0M470.9 62.1h1.0M438.2 75.9h1.0M422.7 98.2h1.0M468.6 66.6h1.0M410.8 80.2h1.0M415.9 90.7h1.0M426.8 97.9h1.0M467.9 65.2h1.0M469.8 63.7h1.0M468.4 15.3h1.0M477.1 58.2h1.0M466.5 31.4h1.0M445.8 78.9h1.0M428.0 76.4h1.0M424.0 83.3h1.0M465.7 18.2h1.0M398.4 91.0h1.0M428.0 92.4h1.0M449.2 82.7h1.0M421.0 90.2h1.0M436.4 92.1h1.0M456.8 54.3h1.0M437.5 98.1h1.0M454.4 71.3h1.0M409.1 89.1h1.0M462.0 17.4h1.0M431.4 79.2h1.0M425.0 91.2h1.0M400.5 94.4h1.0M429.4 87.4h1.0M469.0 27.3h1.0M466.9 25.0h1.0M437.8 82.1h1.0M462.3 46.5h1.0M475.8 59.8h1.0M439.3 84.0h1.0M468.8 13.0h1.0M444.3 85.9h1.0M472.7 36.9h1.0M422.5 84.7h1.0M435.5 80.1h1.0M437.9 79.2h1.0M445.2 74.4h1.0M448.8 78.4h1.0M427.0 92.1h1.0M430.6 88.6h1.0M457.2 29.6h1.0M454.0 77.5h1.0M469.3 11.1h1.0M433.1 87.0h1.0M424.1 87.5h1.0M428.7 83.6h1.0M466.4 72.8h1.0M401.7 92.0h1.0M436.8 78.0h1.0M470.5 32.2h1.0M433.0 82.2h1.0M471.2 18.5h1.0M461.8 71.1h1.0M426.5 83.4h1.0M466.3 13.6h1.0M425.9 88.8h1.0M419.0 83.7h1.0M411.3 93.5h1.0M423.8 90.4h1.0M414.4 100.0h1.0M457.6 83.8h1.0M467.1 64.2h1.0M400.0 98.5h1.0M464.6 30.4h1.0M472.0 14.9h1.0M441.5 78.3h1.0M431.4 96.8h1.0M452.2 80.8h1.0M430.7 89.1h1.0M437.9 77.1h1.0M408.1 92.2h1.0M461.9 53.4h1.0M408.5 94.1h1.0M441.6 79.0h1.0M429.6 86.1h1.0M469.6 63.7h1.0M439.6 68.3h1.0M429.0 81.0h1.0M429.7 83.0h1.0M423.8 92.2h1.0M414.9 95.3h1.0M435.0 87.6h1.0M440.8 85.1h1.0M417.6 86.0h1.0M400.2 90.9h1.0M466.7 64.9h1.0M446.0 76.7h1.0M426.1 94.6h1.0M419.6 91.1h1.0M441.8 84.9h1.0M470.0 64.7h1.0M432.8 82.4h1.0M467.2 23.2h1.0M453.9 25.1h1.0M469.0 18.8h1.0M473.5 7.2h1.0M467.4 14.8h1.0M468.6 4.5h1.0M398.9 100.2h1.0M438.8 74.1h1.0M466.8 67.3h1.0M414.9 83.3h1.0M467.0 11.2h1.0M423.3 91.4h1.0M447.8 76.1h1.0M413.7 91.0h1.0M429.1 82.9h1.0M426.0 97.3h1.0M469.3 64.2h1.0M437.2 82.6h1.0M461.8 73.7h1.0M405.5 90.7h1.0M451.3 38.0h1.0M421.8 87.0h1.0M419.1 88.3h1.0M416.8 88.7h1.0M423.5 97.5h1.0M440.0 71.7h1.0M468.1 68.3h1.0M472.6 62.4h1.0M430.7 89.6h1.0M426.7 93.5h1.0M459.6 63.4h1.0M415.5 85.7h1.0M463.4 50.4h1.0M462.1 20.8h1.0M416.0 88.6h1.0M427.3 90.2h1.0M427.2 84.1h1.0M437.7 87.4h1.0M440.3 87.6h1.0M475.0 10.9h1.0M415.8 78.5h1.0M468.5 8.5h1.0M412.3 100.7h1.0M431.9 91.8h1.0M443.4 81.5h1.0M422.7 86.8h1.0M440.4 84.7h1.0M400.7 94.9h1.0M423.4 96.0h1.0M446.0 86.4h1.0M470.0 20.5h1.0M450.2 42.5h1.0M437.3 88.3h1.0M466.7 67.2h1.0M430.8 90.0h1.0M423.3 87.2h1.0M417.0 95.7h1.0M454.7 30.3h1.0M463.8 46.2h1.0M465.7 11.3h1.0M404.9 85.7h1.0M432.8 48.5h1.0M428.3 99.7h1.0M453.9 88.0h1.0M422.8 85.2h1.0M408.8 83.9h1.0M472.7 19.3h1.0M465.9 45.6h1.0M458.4 71.7h1.0M464.8 66.6h1.0M473.4 13.4h1.0M464.2 16.9h1.0M408.6 89.0h1.0M430.1 86.5h1.0M441.5 81.2h1.0M442.4 78.0h1.0M437.9 85.5h1.0M471.0 46.0h1.0M419.7 100.4h1.0M459.8 77.7h1.0M441.7 77.4h1.0M429.9 84.2h1.0M470.5 13.2h1.0M430.2 80.0h1.0M433.7 84.2h1.0M413.5 78.4h1.0M443.1 85.4h1.0M461.9 46.6h1.0M429.3 86.9h1.0M408.7 83.9h1.0M432.7 94.7h1.0M454.4 14.5h1.0M448.6 71.5h1.0M419.2 88.7h1.0M415.0 96.5h1.0M428.2 85.5h1.0M473.5 63.1h1.0M474.0 52.2h1.0M467.5 43.6h1.0M461.0 42.1h1.0M464.6 51.3h1.0M439.3 99.1h1.0M429.8 87.1h1.0M423.9 78.9h1.0M470.7 7.9h1.0M424.3 85.0h1.0M412.1 83.6h1.0M452.1 96.3h1.0M473.2 50.7h1.0M432.9 78.5h1.0M446.7 80.0h1.0M474.1 46.9h1.0M434.2 85.3h1.0M466.8 31.9h1.0M401.4 97.2h1.0M426.8 84.0h1.0M470.3 17.3h1.0M467.9 29.7h1.0M419.3 89.8h1.0M442.1 86.1h1.0M470.5 28.1h1.0M463.2 56.0h1.0M422.4 87.2h1.0M459.7 49.7h1.0M475.8 14.9h1.0M439.6 74.9h1.0M425.4 88.0h1.0M437.3 80.8h1.0M472.9 59.7h1.0M418.1 94.3h1.0M417.2 93.6h1.0M470.9 15.3h1.0M463.9 68.6h1.0M407.4 98.1h1.0M440.5 97.6h1.0M460.1 69.0h1.0M473.0 43.0h1.0M460.9 53.0h1.0M452.2 80.6h1.0M453.6 67.9h1.0M416.4 86.3h1.0M422.3 85.8h1.0M411.8 96.6h1.0M429.5 78.9h1.0M418.0 87.1h1.0M408.6 77.9h1.0M472.6 61.2h1.0M470.3 7.2h1.0M432.0 84.4h1.0M467.3 33.0h1.0M438.7 71.5h1.0M466.0 32.3h1.0M468.8 65.5h1.0M432.6 91.5h1.0M395.3 88.7h1.0M427.5 87.1h1.0M423.5 82.8h1.0" stroke="#000" stroke-width="1.0" stroke-opacity="0.38" fill="none"/>
<path d="M392.5 1.4H518.2L518.2 102.4L392.5 102.4Z" fill="none" stroke="#151515" stroke-width="1.05"/>
<path d="M451.6 1.4V102.4" stroke="#151515" stroke-width="1.25" fill="none"/>
<path d="M392.5 55.4H518.2" stroke="#333" stroke-width="1.1" fill="none"/>
<path d="M393.4 3.0h1.8M452.5 3.0h1.8M393.4 57.0h1.8M452.5 57.0h1.8" stroke="#222" stroke-width="1.5" stroke-opacity="0.8" fill="none"/>
<path d="M402.0 102.4v1.9M392.5 94.8h-2.3M407.5 102.4v1.9M392.5 90.4h-2.3M411.4 102.4v1.9M392.5 87.2h-2.3M414.5 102.4v1.9M392.5 84.8h-2.3M417.0 102.4v1.9M392.5 82.8h-2.3M419.1 102.4v1.9M392.5 81.1h-2.3M420.9 102.4v1.9M392.5 79.6h-2.3M422.5 102.4v1.9M392.5 78.3h-2.3M433.4 102.4v1.9M392.5 69.5h-2.3M438.9 102.4v1.9M392.5 65.1h-2.3M442.8 102.4v1.9M392.5 61.9h-2.3M445.9 102.4v1.9M392.5 59.5h-2.3M448.4 102.4v1.9M392.5 57.5h-2.3M450.5 102.4v1.9M392.5 55.8h-2.3M452.3 102.4v1.9M392.5 54.3h-2.3M453.9 102.4v1.9M392.5 53.1h-2.3M464.8 102.4v1.9M392.5 44.3h-2.3M470.3 102.4v1.9M392.5 39.9h-2.3M474.3 102.4v1.9M392.5 36.7h-2.3M477.3 102.4v1.9M392.5 34.3h-2.3M479.8 102.4v1.9M392.5 32.3h-2.3M481.9 102.4v1.9M392.5 30.6h-2.3M483.7 102.4v1.9M392.5 29.1h-2.3M485.3 102.4v1.9M392.5 27.8h-2.3M496.2 102.4v1.9M392.5 19.0h-2.3M501.8 102.4v1.9M392.5 14.6h-2.3M505.7 102.4v1.9M392.5 11.4h-2.3M508.7 102.4v1.9M392.5 9.0h-2.3M511.2 102.4v1.9M392.5 7.0h-2.3M513.3 102.4v1.9M392.5 5.3h-2.3M515.2 102.4v1.9M392.5 3.8h-2.3M516.8 102.4v1.9M392.5 2.6h-2.3" stroke="#222" stroke-width="0.8" fill="none"/>
<path d="M392.5 102.4v3.2M392.5 102.4h-4.6M423.9 102.4v3.2M392.5 77.2h-4.6M455.4 102.4v3.2M392.5 51.9h-4.6M486.8 102.4v3.2M392.5 26.7h-4.6M518.2 102.4v3.2M392.5 1.4h-4.6" stroke="#222" stroke-width="0.9" fill="none"/>
<path d="M393.3 109.7h2.6M395.4 108.4h1.4M383.1 101.5h2.6M385.5 100.3h1.3M424.7 109.7h2.6M426.8 108.4h1.4M383.1 76.2h2.6M385.5 75.1h1.3M456.2 109.7h2.6M458.2 108.4h1.4M383.1 51.0h2.6M385.5 49.8h1.3M487.6 109.7h2.6M489.7 108.4h1.4M383.1 25.8h2.6M385.5 24.6h1.3M514.2 109.7h2.6M516.3 108.4h1.4M383.1 0.5h2.6M385.5 -0.7h1.3" stroke="#1a1a1a" stroke-width="1.5" stroke-opacity="0.85" fill="none"/>
<rect x="183.7" y="51.4" width="2.3" height="2.5" fill="#222"/>
<rect x="361.1" y="51.2" width="2.3" height="2.4" fill="#222"/>
<text x="0.4" y="18.3" font-size="25" font-family="'Liberation Sans', sans-serif" text-anchor="start" fill="#000" stroke="#000" stroke-width="0.3" font-weight="bold">A</text>
<text x="0.2" y="182.2" font-size="24.5" font-family="'Liberation Sans', sans-serif" text-anchor="start" fill="#000" stroke="#000" stroke-width="0.3" font-weight="bold">B</text>
<text transform="translate(13.3,76.8) rotate(-90)" font-size="17.9" font-family="'Liberation Serif', serif" fill="#000" stroke="#000" stroke-width="0.45" textLength="16.2" lengthAdjust="spacingAndGlyphs">PI</text>
<path d="M7.9 54.2V39.6M3.9 44.2L7.9 39.4L12.6 44.2" stroke="#000" stroke-width="1.2" fill="none"/>
<text x="46.4" y="22.8" font-size="14.5" font-family="'Liberation Serif', serif" text-anchor="start" fill="#000" stroke="#000" stroke-width="0.3" >No</text>
<text x="46.4" y="40.3" font-size="14.5" font-family="'Liberation Serif', serif" text-anchor="start" fill="#000" stroke="#000" stroke-width="0.3" >cytokine</text>
<text x="123.6" y="22.0" font-size="14.5" font-family="'Liberation Serif', serif" text-anchor="start" fill="#000" stroke="#000" stroke-width="0.3" >45%</text>
<text x="46.3" y="77.7" font-size="14.5" font-family="'Liberation Serif', serif" text-anchor="start" fill="#000" stroke="#000" stroke-width="0.3" >30%</text>
<text x="124.0" y="77.7" font-size="14.5" font-family="'Liberation Serif', serif" text-anchor="start" fill="#000" stroke="#000" stroke-width="0.3" >24%</text>
<text x="229.7" y="23.8" font-size="14.5" font-family="'Liberation Serif', serif" text-anchor="start" fill="#000" stroke="#000" stroke-width="0.3" >IL-6</text>
<text x="301.5" y="21.5" font-size="14.5" font-family="'Liberation Serif', serif" text-anchor="start" fill="#000" stroke="#000" stroke-width="0.3" >14%</text>
<text x="223.9" y="76.9" font-size="14.5" font-family="'Liberation Serif', serif" text-anchor="start" fill="#000" stroke="#000" stroke-width="0.3" >76%</text>
<text x="312.3" y="77.4" font-size="14.5" font-family="'Liberation Serif', serif" text-anchor="start" fill="#000" stroke="#000" stroke-width="0.3" >8%</text>
<text x="408.2" y="23.4" font-size="14.5" font-family="'Liberation Serif', serif" text-anchor="start" fill="#000" stroke="#000" stroke-width="0.3" >IL-21</text>
<text x="478.8" y="21.5" font-size="14.5" font-family="'Liberation Serif', serif" text-anchor="start" fill="#000" stroke="#000" stroke-width="0.3" >26%</text>
<text x="401.9" y="77.4" font-size="14.5" font-family="'Liberation Serif', serif" text-anchor="start" fill="#000" stroke="#000" stroke-width="0.3" >59%</text>
<text x="479.2" y="76.6" font-size="14.5" font-family="'Liberation Serif', serif" text-anchor="start" fill="#000" stroke="#000" stroke-width="0.3" >14%</text>
<text x="213.6" y="135.6" font-size="19.2" font-family="'Liberation Serif', serif" fill="#000" stroke="#000" stroke-width="0.3" textLength="108.6" lengthAdjust="spacingAndGlyphs">Annexin-FITC</text>
<path d="M323.5 131.3H340.2M335.6 126.7L340.4 131.3L335.6 135.8" stroke="#000" stroke-width="1.2" fill="none"/>
<path d="M61.75 427.4H326.0M61.75 400.8H326.0M61.75 374.3H326.0M61.75 347.8H326.0M61.75 321.3H326.0M61.75 295.4H326.0M61.75 268.7H326.0M61.75 241.8H326.0M61.75 216.2H326.0" stroke="#454545" stroke-width="1" stroke-dasharray="5 4.55" fill="none"/>
<path d="M62.3 189.3H326.0V457.3M62.3 453.9H326.0" stroke="#3e3e3e" stroke-width="1.1" fill="none"/>
<rect x="73.10" y="373.50" width="15.60" height="79.90" fill="#fff" stroke="#000" stroke-width="1.3"/>
<rect x="102.40" y="297.90" width="14.40" height="155.50" fill="#cdcdcd" stroke="#000" stroke-width="1.3"/>
<rect x="88.10" y="251.20" width="14.90" height="202.85" fill="#000"/>
<rect x="139.50" y="295.30" width="15.20" height="158.10" fill="#fff" stroke="#000" stroke-width="1.3"/>
<rect x="169.20" y="267.50" width="14.60" height="185.90" fill="#cdcdcd" stroke="#000" stroke-width="1.3"/>
<rect x="154.10" y="258.50" width="15.70" height="195.55" fill="#000"/>
<path d="M146.80 295.30V294.10M141.80 294.10H151.80" stroke="#000" stroke-width="1.3" fill="none"/>
<path d="M161.95 258.50V257.55M156.35 257.55H167.55" stroke="#000" stroke-width="1.3" fill="none"/>
<path d="M176.80 267.50V262.70M172.00 262.70H181.60" stroke="#000" stroke-width="1.3" fill="none"/>
<rect x="206.20" y="332.00" width="14.50" height="121.40" fill="#fff" stroke="#000" stroke-width="1.3"/>
<rect x="234.50" y="266.60" width="14.50" height="186.80" fill="#cdcdcd" stroke="#000" stroke-width="1.3"/>
<rect x="220.10" y="270.70" width="15.00" height="183.35" fill="#000"/>
<path d="M213.15 332.00V330.80M208.65 330.80H217.65" stroke="#000" stroke-width="1.3" fill="none"/>
<path d="M227.60 270.70V267.50M222.70 267.50H232.50" stroke="#000" stroke-width="1.3" fill="none"/>
<rect x="271.80" y="271.30" width="14.90" height="182.10" fill="#fff" stroke="#000" stroke-width="1.3"/>
<rect x="299.90" y="261.70" width="14.70" height="191.70" fill="#cdcdcd" stroke="#000" stroke-width="1.3"/>
<rect x="286.10" y="214.40" width="14.40" height="239.65" fill="#000"/>
<path d="M293.30 214.40V212.10M288.40 212.10H298.20" stroke="#000" stroke-width="1.3" fill="none"/>
<path d="M62.3 189.3V457.4M57.4 453.9H73.3M62.3 453.9h-4.7M62.3 427.4h-4.7M62.3 400.8h-4.7M62.3 374.3h-4.7M62.3 347.8h-4.7M62.3 321.3h-4.7M62.3 295.4h-4.7M62.3 268.7h-4.7M62.3 241.8h-4.7M62.3 216.2h-4.7M62.3 189.3h-4.7M128.2 453.9v3.6M194.1 453.9v3.6M260.1 453.9v3.6" stroke="#000" stroke-width="1" fill="none"/>
<text x="41.6" y="458.5" font-size="14.5" font-family="'Liberation Sans', sans-serif" fill="#000" stroke="#000" stroke-width="0.35" textLength="8.6" lengthAdjust="spacingAndGlyphs">0</text>
<text x="33.2" y="432.0" font-size="14.5" font-family="'Liberation Sans', sans-serif" fill="#000" stroke="#000" stroke-width="0.35" textLength="17.0" lengthAdjust="spacingAndGlyphs">10</text>
<text x="33.2" y="405.4" font-size="14.5" font-family="'Liberation Sans', sans-serif" fill="#000" stroke="#000" stroke-width="0.35" textLength="17.0" lengthAdjust="spacingAndGlyphs">20</text>
<text x="33.2" y="378.9" font-size="14.5" font-family="'Liberation Sans', sans-serif" fill="#000" stroke="#000" stroke-width="0.35" textLength="17.0" lengthAdjust="spacingAndGlyphs">30</text>
<text x="33.2" y="352.4" font-size="14.5" font-family="'Liberation Sans', sans-serif" fill="#000" stroke="#000" stroke-width="0.35" textLength="17.0" lengthAdjust="spacingAndGlyphs">40</text>
<text x="33.2" y="325.9" font-size="14.5" font-family="'Liberation Sans', sans-serif" fill="#000" stroke="#000" stroke-width="0.35" textLength="17.0" lengthAdjust="spacingAndGlyphs">50</text>
<text x="33.2" y="300.0" font-size="14.5" font-family="'Liberation Sans', sans-serif" fill="#000" stroke="#000" stroke-width="0.35" textLength="17.0" lengthAdjust="spacingAndGlyphs">60</text>
<text x="33.2" y="273.3" font-size="14.5" font-family="'Liberation Sans', sans-serif" fill="#000" stroke="#000" stroke-width="0.35" textLength="17.0" lengthAdjust="spacingAndGlyphs">70</text>
<text x="33.2" y="246.4" font-size="14.5" font-family="'Liberation Sans', sans-serif" fill="#000" stroke="#000" stroke-width="0.35" textLength="17.0" lengthAdjust="spacingAndGlyphs">80</text>
<text x="33.2" y="220.8" font-size="14.5" font-family="'Liberation Sans', sans-serif" fill="#000" stroke="#000" stroke-width="0.35" textLength="17.0" lengthAdjust="spacingAndGlyphs">90</text>
<text x="24.4" y="193.9" font-size="14.5" font-family="'Liberation Sans', sans-serif" fill="#000" stroke="#000" stroke-width="0.35" textLength="25.8" lengthAdjust="spacingAndGlyphs">100</text>
<text transform="translate(12.2,396.4) rotate(-90)" font-size="13" font-weight="bold" font-family="'Liberation Sans', sans-serif" fill="#000" stroke="#000" stroke-width="0.2" textLength="152" lengthAdjust="spacingAndGlyphs">Cell viability (percent)</text>
<text x="138.7" y="477.4" font-size="13" font-family="'Liberation Sans', sans-serif" fill="#000" stroke="#000" stroke-width="0.3" textLength="47.2" lengthAdjust="spacingAndGlyphs">ANBL-6</text>
<text x="273.1" y="477.2" font-size="13" font-family="'Liberation Sans', sans-serif" fill="#000" stroke="#000" stroke-width="0.3" textLength="39.0" lengthAdjust="spacingAndGlyphs">Patient</text>
<text x="272.0" y="495.0" font-size="13" font-family="'Liberation Sans', sans-serif" fill="#000" stroke="#000" stroke-width="0.3" textLength="42.3" lengthAdjust="spacingAndGlyphs">sample</text>
<text transform="scale(1.08,1)" x="78.47 80.83 88.52 93.52" y="477.2" font-size="13" font-family="'Liberation Sans', sans-serif" fill="#000" stroke="#000" stroke-width="0.3">IH-1</text>
<text transform="scale(1.08,1)" x="196.57 205.60 213.47 218.19" y="477.0" font-size="13" font-family="'Liberation Sans', sans-serif" fill="#000" stroke="#000" stroke-width="0.3">OH-2</text>
<rect x="148.2" y="164.9" width="108.4" height="76.6" fill="#fff" stroke="#333" stroke-width="1"/>
<rect x="154.4" y="175.0" width="8.0" height="7.8" fill="#fff" stroke="#000" stroke-width="1.4"/>
<text x="167.4" y="182.6" font-size="15" font-family="'Liberation Sans', sans-serif" fill="#000" stroke="#000" stroke-width="0.25" textLength="86.3" lengthAdjust="spacingAndGlyphs">No cytokine</text>
<rect x="154.4" y="200.8" width="8.0" height="7.8" fill="#000" stroke="#000" stroke-width="1.4"/>
<text x="167.4" y="208.3" font-size="15" font-family="'Liberation Sans', sans-serif" fill="#000" stroke="#000" stroke-width="0.25" textLength="25.6" lengthAdjust="spacingAndGlyphs">IL-6</text>
<rect x="154.4" y="226.7" width="8.0" height="7.8" fill="#cdcdcd" stroke="#000" stroke-width="1.4"/>
<text x="167.4" y="234.1" font-size="15" font-family="'Liberation Sans', sans-serif" fill="#000" stroke="#000" stroke-width="0.25" textLength="33.0" lengthAdjust="spacingAndGlyphs">IL-21</text>
</svg>
</div>
</body></html>
